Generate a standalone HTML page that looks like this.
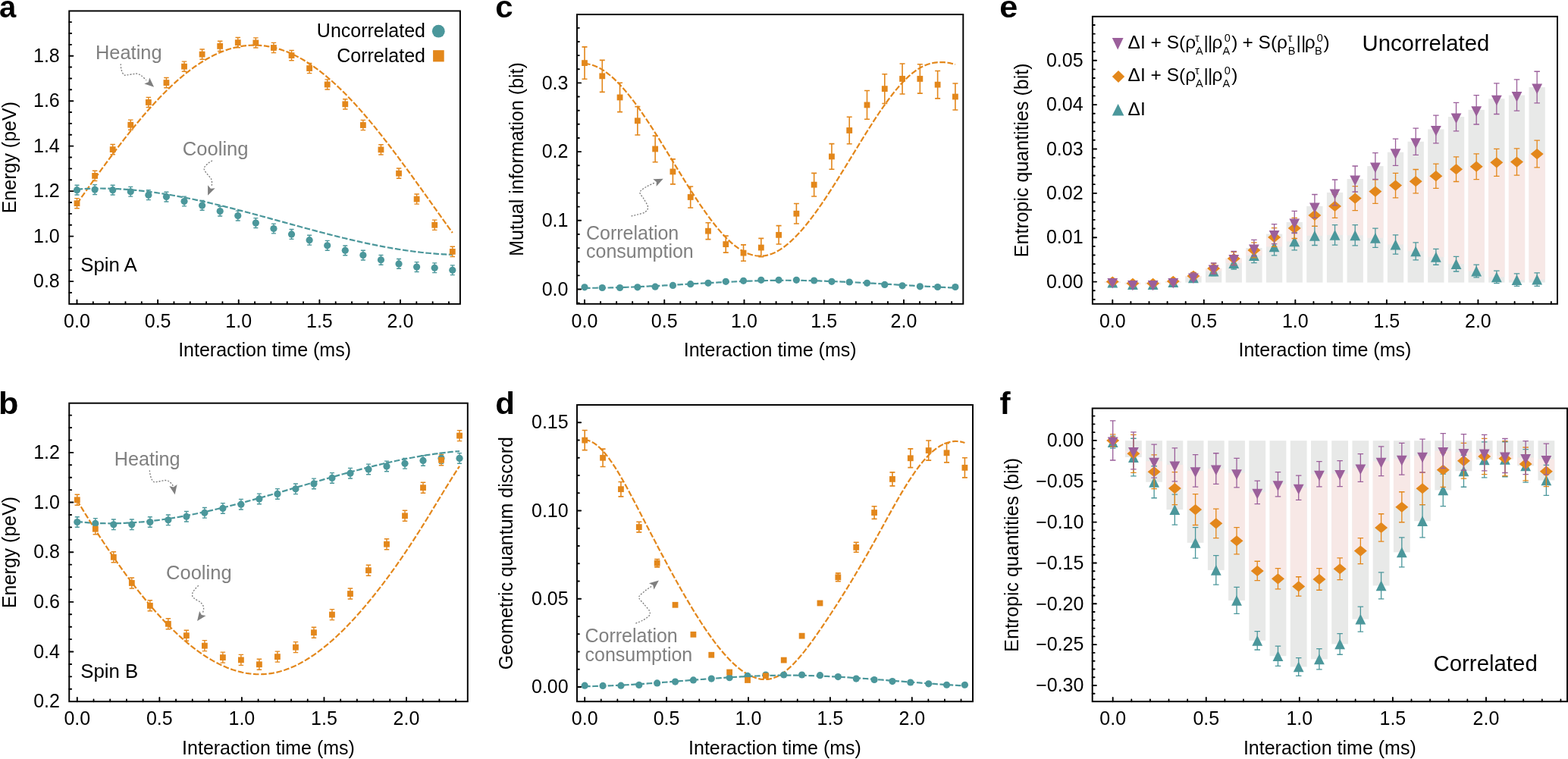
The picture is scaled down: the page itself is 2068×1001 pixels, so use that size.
<!DOCTYPE html>
<html><head><meta charset="utf-8"><title>Figure</title>
<style>html,body{margin:0;padding:0;background:#fff;overflow:hidden}svg{display:block}</style>
</head><body>
<svg width="2068" height="1001" viewBox="0 0 2068 1001">
<rect width="2068" height="1001" fill="#fff"/>
<style>text{font-family:'Liberation Sans', Arial, Helvetica, sans-serif;font-size:25px;fill:#000}.tk{font-size:25px}.pl{font-size:40px;font-weight:bold}</style>
<text transform="translate(-1.00 23.00) scale(1.000 1)" class="pl">a</text>
<text transform="translate(-2.00 546.00) scale(1.080 1)" class="pl">b</text>
<text transform="translate(653.30 23.00) scale(1.050 1)" class="pl">c</text>
<text transform="translate(653.30 545.50) scale(1.050 1)" class="pl">d</text>
<text transform="translate(1318.20 23.00) scale(1.080 1)" class="pl">e</text>
<text transform="translate(1318.40 545.50) scale(1.060 1)" class="pl">f</text>
<path d="M101.50 268.52 L103.99 265.02 L106.48 261.53 L108.97 258.03 L111.46 254.54 L113.94 251.05 L116.43 247.57 L118.92 244.09 L121.41 240.62 L123.90 237.16 L126.39 233.71 L128.88 230.27 L131.37 226.83 L133.86 223.41 L136.34 220.01 L138.83 216.62 L141.32 213.24 L143.81 209.88 L146.30 206.53 L148.79 203.20 L151.28 199.89 L153.77 196.60 L156.26 193.33 L158.75 190.08 L161.23 186.86 L163.72 183.65 L166.21 180.47 L168.70 177.32 L171.19 174.19 L173.68 171.09 L176.17 168.01 L178.66 164.97 L181.15 161.95 L183.63 158.96 L186.12 156.00 L188.61 153.08 L191.10 150.18 L193.59 147.32 L196.08 144.50 L198.57 141.71 L201.06 138.95 L203.55 136.23 L206.03 133.55 L208.52 130.90 L211.01 128.30 L213.50 125.73 L215.99 123.20 L218.48 120.72 L220.97 118.27 L223.46 115.87 L225.95 113.51 L228.43 111.19 L230.92 108.92 L233.41 106.69 L235.90 104.50 L238.39 102.37 L240.88 100.28 L243.37 98.23 L245.86 96.23 L248.35 94.29 L250.84 92.39 L253.32 90.54 L255.81 88.73 L258.30 86.98 L260.79 85.28 L263.28 83.63 L265.77 82.04 L268.26 80.49 L270.75 79.00 L273.24 77.56 L275.72 76.17 L278.21 74.84 L280.70 73.56 L283.19 72.34 L285.68 71.17 L288.17 70.05 L290.66 68.99 L293.15 67.99 L295.64 67.04 L298.12 66.15 L300.61 65.31 L303.10 64.54 L305.59 63.81 L308.08 63.15 L310.57 62.54 L313.06 61.99 L315.55 61.50 L318.04 61.07 L320.52 60.69 L323.01 60.37 L325.50 60.11 L327.99 59.91 L330.48 59.76 L332.97 59.68 L335.46 59.65 L337.95 59.68 L340.44 59.77 L342.92 59.92 L345.41 60.12 L347.90 60.39 L350.39 60.71 L352.88 61.09 L355.37 61.52 L357.86 62.02 L360.35 62.57 L362.84 63.18 L365.33 63.85 L367.81 64.57 L370.30 65.35 L372.79 66.19 L375.28 67.08 L377.77 68.04 L380.26 69.04 L382.75 70.10 L385.24 71.22 L387.73 72.39 L390.21 73.62 L392.70 74.90 L395.19 76.24 L397.68 77.63 L400.17 79.07 L402.66 80.56 L405.15 82.11 L407.64 83.71 L410.13 85.36 L412.61 87.07 L415.10 88.82 L417.59 90.62 L420.08 92.48 L422.57 94.38 L425.06 96.33 L427.55 98.33 L430.04 100.37 L432.53 102.47 L435.01 104.61 L437.50 106.79 L439.99 109.02 L442.48 111.30 L444.97 113.62 L447.46 115.98 L449.95 118.39 L452.44 120.83 L454.93 123.32 L457.42 125.85 L459.90 128.42 L462.39 131.03 L464.88 133.67 L467.37 136.36 L469.86 139.08 L472.35 141.84 L474.84 144.63 L477.33 147.46 L479.82 150.32 L482.30 153.22 L484.79 156.14 L487.28 159.10 L489.77 162.09 L492.26 165.11 L494.75 168.16 L497.24 171.24 L499.73 174.34 L502.22 177.47 L504.70 180.63 L507.19 183.81 L509.68 187.01 L512.17 190.24 L514.66 193.49 L517.15 196.76 L519.64 200.05 L522.13 203.36 L524.62 206.69 L527.10 210.04 L529.59 213.40 L532.08 216.78 L534.57 220.17 L537.06 223.58 L539.55 227.00 L542.04 230.43 L544.53 233.87 L547.02 237.32 L549.51 240.79 L551.99 244.26 L554.48 247.73 L556.97 251.22 L559.46 254.70 L561.95 258.20 L564.44 261.69 L566.93 265.19 L569.42 268.69 L571.91 272.19 L574.39 275.69 L576.88 279.19 L579.37 282.68 L581.86 286.17 L584.35 289.66 L586.84 293.14 L589.33 296.62 L591.82 300.08 L594.31 303.54 L596.79 306.99" fill="none" stroke="#e3871b" stroke-width="2.20" stroke-dasharray="7.6 2.6"/>
<path d="M101.50 249.65 L103.99 249.47 L106.48 249.31 L108.97 249.16 L111.46 249.03 L113.94 248.91 L116.43 248.81 L118.92 248.73 L121.41 248.66 L123.90 248.60 L126.39 248.56 L128.88 248.53 L131.37 248.52 L133.86 248.52 L136.34 248.54 L138.83 248.57 L141.32 248.61 L143.81 248.67 L146.30 248.74 L148.79 248.83 L151.28 248.93 L153.77 249.04 L156.26 249.16 L158.75 249.30 L161.23 249.45 L163.72 249.61 L166.21 249.78 L168.70 249.97 L171.19 250.17 L173.68 250.38 L176.17 250.60 L178.66 250.83 L181.15 251.08 L183.63 251.34 L186.12 251.60 L188.61 251.88 L191.10 252.17 L193.59 252.47 L196.08 252.78 L198.57 253.11 L201.06 253.44 L203.55 253.78 L206.03 254.13 L208.52 254.49 L211.01 254.86 L213.50 255.25 L215.99 255.64 L218.48 256.03 L220.97 256.44 L223.46 256.86 L225.95 257.29 L228.43 257.72 L230.92 258.17 L233.41 258.62 L235.90 259.08 L238.39 259.55 L240.88 260.02 L243.37 260.51 L245.86 261.00 L248.35 261.50 L250.84 262.00 L253.32 262.52 L255.81 263.04 L258.30 263.56 L260.79 264.10 L263.28 264.64 L265.77 265.18 L268.26 265.74 L270.75 266.30 L273.24 266.86 L275.72 267.43 L278.21 268.01 L280.70 268.59 L283.19 269.18 L285.68 269.77 L288.17 270.37 L290.66 270.97 L293.15 271.58 L295.64 272.19 L298.12 272.81 L300.61 273.43 L303.10 274.06 L305.59 274.69 L308.08 275.32 L310.57 275.96 L313.06 276.60 L315.55 277.25 L318.04 277.89 L320.52 278.54 L323.01 279.20 L325.50 279.85 L327.99 280.51 L330.48 281.18 L332.97 281.84 L335.46 282.51 L337.95 283.18 L340.44 283.85 L342.92 284.52 L345.41 285.19 L347.90 285.87 L350.39 286.55 L352.88 287.23 L355.37 287.91 L357.86 288.59 L360.35 289.27 L362.84 289.95 L365.33 290.63 L367.81 291.32 L370.30 292.00 L372.79 292.68 L375.28 293.37 L377.77 294.05 L380.26 294.73 L382.75 295.41 L385.24 296.10 L387.73 296.78 L390.21 297.46 L392.70 298.13 L395.19 298.81 L397.68 299.49 L400.17 300.16 L402.66 300.83 L405.15 301.51 L407.64 302.17 L410.13 302.84 L412.61 303.50 L415.10 304.17 L417.59 304.83 L420.08 305.48 L422.57 306.14 L425.06 306.79 L427.55 307.43 L430.04 308.08 L432.53 308.72 L435.01 309.35 L437.50 309.99 L439.99 310.62 L442.48 311.24 L444.97 311.86 L447.46 312.48 L449.95 313.09 L452.44 313.70 L454.93 314.30 L457.42 314.90 L459.90 315.49 L462.39 316.08 L464.88 316.66 L467.37 317.23 L469.86 317.80 L472.35 318.37 L474.84 318.93 L477.33 319.48 L479.82 320.03 L482.30 320.57 L484.79 321.10 L487.28 321.62 L489.77 322.14 L492.26 322.66 L494.75 323.16 L497.24 323.66 L499.73 324.15 L502.22 324.63 L504.70 325.11 L507.19 325.57 L509.68 326.03 L512.17 326.48 L514.66 326.93 L517.15 327.36 L519.64 327.78 L522.13 328.20 L524.62 328.61 L527.10 329.01 L529.59 329.39 L532.08 329.77 L534.57 330.14 L537.06 330.50 L539.55 330.85 L542.04 331.19 L544.53 331.52 L547.02 331.84 L549.51 332.15 L551.99 332.45 L554.48 332.74 L556.97 333.02 L559.46 333.28 L561.95 333.54 L564.44 333.78 L566.93 334.01 L569.42 334.24 L571.91 334.44 L574.39 334.64 L576.88 334.83 L579.37 335.00 L581.86 335.16 L584.35 335.31 L586.84 335.44 L589.33 335.56 L591.82 335.67 L594.31 335.77 L596.79 335.85" fill="none" stroke="#4b979b" stroke-width="2.20" stroke-dasharray="7.6 2.6"/>
<path d="M101.50 244.25V257.05M98.50 244.25H104.50M98.50 257.05H104.50M125.09 243.66V256.46M122.09 243.66H128.09M122.09 256.46H128.09M148.67 244.25V257.05M145.67 244.25H151.67M145.67 257.05H151.67M172.26 246.33V259.13M169.26 246.33H175.26M169.26 259.13H175.26M195.84 250.80V263.60M192.84 250.80H198.84M192.84 263.60H198.84M219.43 253.18V265.98M216.43 253.18H222.43M216.43 265.98H222.43M243.01 259.12V271.92M240.01 259.12H246.01M240.01 271.92H246.01M266.60 264.48V277.28M263.60 264.48H269.60M263.60 277.28H269.60M290.18 272.21V285.01M287.18 272.21H293.18M287.18 285.01H293.18M313.77 278.16V290.96M310.77 278.16H316.77M310.77 290.96H316.77M337.35 287.67V300.47M334.35 287.67H340.35M334.35 300.47H340.35M360.94 295.11V307.91M357.94 295.11H363.94M357.94 307.91H363.94M384.53 302.54V315.34M381.53 302.54H387.53M381.53 315.34H387.53M408.11 310.28V323.08M405.11 310.28H411.11M405.11 323.08H411.11M431.70 317.41V330.21M428.70 317.41H434.70M428.70 330.21H434.70M455.28 323.96V336.76M452.28 323.96H458.28M452.28 336.76H458.28M478.87 330.20V343.00M475.87 330.20H481.87M475.87 343.00H481.87M502.45 336.45V349.25M499.45 336.45H505.45M499.45 349.25H505.45M526.04 341.50V354.30M523.04 341.50H529.04M523.04 354.30H529.04M549.62 345.67V358.47M546.62 345.67H552.62M546.62 358.47H552.62M573.21 346.86V359.66M570.21 346.86H576.21M570.21 359.66H576.21M596.79 349.83V362.63M593.79 349.83H599.79M593.79 362.63H599.79" stroke="#4b979b" stroke-width="1.40" fill="none"/>
<path d="M101.50 261.60V274.80M98.25 261.60H104.75M98.25 274.80H104.75M125.09 225.32V238.52M121.84 225.32H128.34M121.84 238.52H128.34M148.67 190.52V203.72M145.42 190.52H151.92M145.42 203.72H151.92M172.26 158.10V171.30M169.01 158.10H175.51M169.01 171.30H175.51M195.84 128.36V141.56M192.59 128.36H199.09M192.59 141.56H199.09M219.43 102.49V115.69M216.18 102.49H222.68M216.18 115.69H222.68M243.01 81.08V94.28M239.76 81.08H246.26M239.76 94.28H246.26M266.60 65.02V78.22M263.35 65.02H269.85M263.35 78.22H269.85M290.18 54.31V67.51M286.93 54.31H293.43M286.93 67.51H293.43M313.77 49.55V62.75M310.52 49.55H317.02M310.52 62.75H317.02M337.35 49.85V63.05M334.10 49.85H340.60M334.10 63.05H340.60M360.94 56.39V69.59M357.69 56.39H364.19M357.69 69.59H364.19M384.53 66.51V79.71M381.28 66.51H387.78M381.28 79.71H387.78M408.11 83.46V96.66M404.86 83.46H411.36M404.86 96.66H411.36M431.70 104.87V118.07M428.45 104.87H434.95M428.45 118.07H434.95M455.28 130.74V143.94M452.03 130.74H458.53M452.03 143.94H458.53M478.87 158.40V171.60M475.62 158.40H482.12M475.62 171.60H482.12M502.45 190.82V204.02M499.20 190.82H505.70M499.20 204.02H505.70M526.04 222.05V235.25M522.79 222.05H529.29M522.79 235.25H529.29M549.62 255.95V269.15M546.37 255.95H552.87M546.37 269.15H552.87M573.21 290.15V303.35M569.96 290.15H576.46M569.96 303.35H576.46M596.79 325.24V338.44M593.54 325.24H600.04M593.54 338.44H600.04" stroke="#e3871b" stroke-width="1.40" fill="none"/>
<circle cx="101.50" cy="250.65" r="4.60" fill="#4b979b"/>
<circle cx="125.09" cy="250.06" r="4.60" fill="#4b979b"/>
<circle cx="148.67" cy="250.65" r="4.60" fill="#4b979b"/>
<circle cx="172.26" cy="252.73" r="4.60" fill="#4b979b"/>
<circle cx="195.84" cy="257.20" r="4.60" fill="#4b979b"/>
<circle cx="219.43" cy="259.58" r="4.60" fill="#4b979b"/>
<circle cx="243.01" cy="265.52" r="4.60" fill="#4b979b"/>
<circle cx="266.60" cy="270.88" r="4.60" fill="#4b979b"/>
<circle cx="290.18" cy="278.61" r="4.60" fill="#4b979b"/>
<circle cx="313.77" cy="284.56" r="4.60" fill="#4b979b"/>
<circle cx="337.35" cy="294.07" r="4.60" fill="#4b979b"/>
<circle cx="360.94" cy="301.51" r="4.60" fill="#4b979b"/>
<circle cx="384.53" cy="308.94" r="4.60" fill="#4b979b"/>
<circle cx="408.11" cy="316.68" r="4.60" fill="#4b979b"/>
<circle cx="431.70" cy="323.81" r="4.60" fill="#4b979b"/>
<circle cx="455.28" cy="330.36" r="4.60" fill="#4b979b"/>
<circle cx="478.87" cy="336.60" r="4.60" fill="#4b979b"/>
<circle cx="502.45" cy="342.85" r="4.60" fill="#4b979b"/>
<circle cx="526.04" cy="347.90" r="4.60" fill="#4b979b"/>
<circle cx="549.62" cy="352.07" r="4.60" fill="#4b979b"/>
<circle cx="573.21" cy="353.26" r="4.60" fill="#4b979b"/>
<circle cx="596.79" cy="356.23" r="4.60" fill="#4b979b"/>
<rect x="97.60" y="264.30" width="7.80" height="7.80" fill="#e3871b"/>
<rect x="121.19" y="228.02" width="7.80" height="7.80" fill="#e3871b"/>
<rect x="144.77" y="193.22" width="7.80" height="7.80" fill="#e3871b"/>
<rect x="168.36" y="160.80" width="7.80" height="7.80" fill="#e3871b"/>
<rect x="191.94" y="131.06" width="7.80" height="7.80" fill="#e3871b"/>
<rect x="215.53" y="105.19" width="7.80" height="7.80" fill="#e3871b"/>
<rect x="239.11" y="83.78" width="7.80" height="7.80" fill="#e3871b"/>
<rect x="262.70" y="67.72" width="7.80" height="7.80" fill="#e3871b"/>
<rect x="286.28" y="57.01" width="7.80" height="7.80" fill="#e3871b"/>
<rect x="309.87" y="52.25" width="7.80" height="7.80" fill="#e3871b"/>
<rect x="333.45" y="52.55" width="7.80" height="7.80" fill="#e3871b"/>
<rect x="357.04" y="59.09" width="7.80" height="7.80" fill="#e3871b"/>
<rect x="380.63" y="69.21" width="7.80" height="7.80" fill="#e3871b"/>
<rect x="404.21" y="86.16" width="7.80" height="7.80" fill="#e3871b"/>
<rect x="427.80" y="107.57" width="7.80" height="7.80" fill="#e3871b"/>
<rect x="451.38" y="133.44" width="7.80" height="7.80" fill="#e3871b"/>
<rect x="474.97" y="161.10" width="7.80" height="7.80" fill="#e3871b"/>
<rect x="498.55" y="193.52" width="7.80" height="7.80" fill="#e3871b"/>
<rect x="522.14" y="224.75" width="7.80" height="7.80" fill="#e3871b"/>
<rect x="545.72" y="258.65" width="7.80" height="7.80" fill="#e3871b"/>
<rect x="569.31" y="292.85" width="7.80" height="7.80" fill="#e3871b"/>
<rect x="592.89" y="327.94" width="7.80" height="7.80" fill="#e3871b"/>
<rect x="91.25" y="14.45" width="515.65" height="386.45" fill="none" stroke="#000" stroke-width="1.95"/>
<path d="M101.50 400.90V395.75M122.83 400.90V398.10M144.15 400.90V398.10M165.47 400.90V398.10M186.80 400.90V398.10M208.12 400.90V395.75M229.45 400.90V398.10M250.77 400.90V398.10M272.10 400.90V398.10M293.43 400.90V398.10M314.75 400.90V395.75M336.08 400.90V398.10M357.40 400.90V398.10M378.73 400.90V398.10M400.05 400.90V398.10M421.38 400.90V395.75M442.70 400.90V398.10M464.02 400.90V398.10M485.35 400.90V398.10M506.67 400.90V398.10M528.00 400.90V395.75M549.33 400.90V398.10M570.65 400.90V398.10M591.97 400.90V398.10M91.25 385.97H94.15M91.25 371.10H96.40M91.25 356.23H94.15M91.25 341.36H94.15M91.25 326.49H94.15M91.25 311.62H96.40M91.25 296.75H94.15M91.25 281.88H94.15M91.25 267.01H94.15M91.25 252.14H96.40M91.25 237.27H94.15M91.25 222.40H94.15M91.25 207.53H94.15M91.25 192.66H96.40M91.25 177.79H94.15M91.25 162.92H94.15M91.25 148.05H94.15M91.25 133.18H96.40M91.25 118.31H94.15M91.25 103.44H94.15M91.25 88.57H94.15M91.25 73.70H96.40M91.25 58.83H94.15M91.25 43.96H94.15M91.25 29.09H94.15" stroke="#000" stroke-width="1.9" stroke-linecap="round" fill="none"/>
<text x="101.50" y="432.00" text-anchor="middle" class="tk">0.0</text>
<text x="208.12" y="432.00" text-anchor="middle" class="tk">0.5</text>
<text x="314.75" y="432.00" text-anchor="middle" class="tk">1.0</text>
<text x="421.38" y="432.00" text-anchor="middle" class="tk">1.5</text>
<text x="528.00" y="432.00" text-anchor="middle" class="tk">2.0</text>
<text x="78.75" y="379.30" text-anchor="end" class="tk">0.8</text>
<text x="78.75" y="319.82" text-anchor="end" class="tk">1.0</text>
<text x="78.75" y="260.34" text-anchor="end" class="tk">1.2</text>
<text x="78.75" y="200.86" text-anchor="end" class="tk">1.4</text>
<text x="78.75" y="141.38" text-anchor="end" class="tk">1.6</text>
<text x="78.75" y="81.90" text-anchor="end" class="tk">1.8</text>
<text x="349.07" y="470.40" text-anchor="middle" class="tk">Interaction time (ms)</text>
<text transform="translate(21.20 207.67) rotate(-90)" text-anchor="middle" class="tk">Energy (peV)</text>
<text x="561.0" y="48.7" text-anchor="end">Uncorrelated</text>
<text x="561.0" y="82.1" text-anchor="end">Correlated</text>
<circle cx="578.3" cy="41.2" r="8.4" fill="#4b979b"/>
<rect x="571.1" y="66.2" width="14.6" height="15.2" fill="#e3871b"/>
<text x="106.2" y="357.7" style="font-size:25.8px">Spin A</text>
<text x="126.00" y="77.60" style="font-size:25.40px;fill:#808080" text-anchor="start">Heating</text>
<path d="M159.20 84.40C159.33 85.60 159.33 89.23 160.00 91.60C160.67 93.97 161.87 97.40 163.20 98.60C164.53 99.80 165.87 98.97 168.00 98.80C170.13 98.63 173.87 97.87 176.00 97.60C178.13 97.33 179.08 96.87 180.80 97.20C182.52 97.53 184.27 98.17 186.30 99.60C188.33 101.03 191.88 104.77 193.00 105.80" fill="none" stroke="#7a7a7a" stroke-width="1.3" stroke-dasharray="2.0 1.9" stroke-linecap="butt"/>
<path d="M203.10 114.70L190.36 110.41L195.74 108.22L197.23 102.60Z" fill="#7f7f7f"/>
<text x="240.80" y="205.10" style="font-size:25.60px;fill:#808080" text-anchor="start">Cooling</text>
<path d="M279.90 211.90C279.08 212.42 276.65 213.65 275.00 215.00C273.35 216.35 270.95 218.58 270.00 220.00C269.05 221.42 269.07 222.30 269.30 223.50C269.53 224.70 270.30 225.68 271.40 227.20C272.50 228.72 274.63 230.97 275.90 232.60C277.17 234.23 278.40 235.37 279.00 237.00C279.60 238.63 279.52 240.82 279.50 242.40C279.48 243.98 279.00 245.82 278.90 246.50" fill="none" stroke="#7a7a7a" stroke-width="1.3" stroke-dasharray="2.0 1.9" stroke-linecap="butt"/>
<path d="M274.10 257.70L274.10 244.25L277.89 248.66L283.69 248.28Z" fill="#7f7f7f"/>
<path d="M101.50 687.92 L104.04 688.19 L106.57 688.45 L109.11 688.69 L111.64 688.91 L114.18 689.11 L116.71 689.30 L119.25 689.47 L121.78 689.62 L124.32 689.76 L126.85 689.88 L129.39 689.99 L131.92 690.08 L134.46 690.15 L137.00 690.21 L139.53 690.25 L142.07 690.27 L144.60 690.28 L147.14 690.28 L149.67 690.26 L152.21 690.23 L154.74 690.18 L157.28 690.12 L159.81 690.04 L162.35 689.95 L164.88 689.84 L167.42 689.72 L169.95 689.59 L172.49 689.44 L175.03 689.28 L177.56 689.11 L180.10 688.92 L182.63 688.72 L185.17 688.51 L187.70 688.29 L190.24 688.05 L192.77 687.80 L195.31 687.54 L197.84 687.26 L200.38 686.98 L202.91 686.68 L205.45 686.37 L207.99 686.05 L210.52 685.72 L213.06 685.37 L215.59 685.02 L218.13 684.66 L220.66 684.28 L223.20 683.89 L225.73 683.50 L228.27 683.09 L230.80 682.68 L233.34 682.25 L235.87 681.81 L238.41 681.37 L240.94 680.91 L243.48 680.45 L246.02 679.97 L248.55 679.49 L251.09 679.00 L253.62 678.50 L256.16 677.99 L258.69 677.48 L261.23 676.95 L263.76 676.42 L266.30 675.88 L268.83 675.33 L271.37 674.77 L273.90 674.21 L276.44 673.64 L278.98 673.06 L281.51 672.47 L284.05 671.88 L286.58 671.28 L289.12 670.68 L291.65 670.07 L294.19 669.45 L296.72 668.83 L299.26 668.20 L301.79 667.56 L304.33 666.92 L306.86 666.28 L309.40 665.62 L311.93 664.97 L314.47 664.31 L317.01 663.64 L319.54 662.97 L322.08 662.29 L324.61 661.61 L327.15 660.93 L329.68 660.24 L332.22 659.55 L334.75 658.85 L337.29 658.15 L339.82 657.45 L342.36 656.74 L344.89 656.04 L347.43 655.32 L349.97 654.61 L352.50 653.89 L355.04 653.17 L357.57 652.45 L360.11 651.72 L362.64 651.00 L365.18 650.27 L367.71 649.54 L370.25 648.81 L372.78 648.07 L375.32 647.34 L377.85 646.60 L380.39 645.86 L382.92 645.13 L385.46 644.39 L388.00 643.65 L390.53 642.91 L393.07 642.17 L395.60 641.43 L398.14 640.69 L400.67 639.95 L403.21 639.21 L405.74 638.48 L408.28 637.74 L410.81 637.00 L413.35 636.27 L415.88 635.53 L418.42 634.80 L420.96 634.07 L423.49 633.34 L426.03 632.61 L428.56 631.88 L431.10 631.16 L433.63 630.44 L436.17 629.72 L438.70 629.00 L441.24 628.29 L443.77 627.58 L446.31 626.87 L448.84 626.16 L451.38 625.46 L453.91 624.76 L456.45 624.07 L458.99 623.38 L461.52 622.69 L464.06 622.01 L466.59 621.33 L469.13 620.65 L471.66 619.98 L474.20 619.32 L476.73 618.66 L479.27 618.00 L481.80 617.35 L484.34 616.71 L486.87 616.07 L489.41 615.44 L491.95 614.81 L494.48 614.19 L497.02 613.57 L499.55 612.96 L502.09 612.36 L504.62 611.76 L507.16 611.17 L509.69 610.59 L512.23 610.01 L514.76 609.45 L517.30 608.88 L519.83 608.33 L522.37 607.78 L524.90 607.25 L527.44 606.71 L529.98 606.19 L532.51 605.68 L535.05 605.17 L537.58 604.67 L540.12 604.19 L542.65 603.71 L545.19 603.24 L547.72 602.77 L550.26 602.32 L552.79 601.88 L555.33 601.45 L557.86 601.02 L560.40 600.61 L562.94 600.20 L565.47 599.81 L568.01 599.43 L570.54 599.06 L573.08 598.69 L575.61 598.34 L578.15 598.00 L580.68 597.68 L583.22 597.36 L585.75 597.05 L588.29 596.76 L590.82 596.48 L593.36 596.21 L595.90 595.95 L598.43 595.70 L600.97 595.47 L603.50 595.25 L606.04 595.04" fill="none" stroke="#4b979b" stroke-width="2.20" stroke-dasharray="7.6 2.6"/>
<path d="M101.50 659.56 L104.04 663.77 L106.57 667.95 L109.11 672.10 L111.64 676.23 L114.18 680.34 L116.71 684.41 L119.25 688.46 L121.78 692.48 L124.32 696.48 L126.85 700.44 L129.39 704.38 L131.92 708.28 L134.46 712.16 L137.00 716.00 L139.53 719.82 L142.07 723.60 L144.60 727.36 L147.14 731.08 L149.67 734.77 L152.21 738.42 L154.74 742.05 L157.28 745.64 L159.81 749.19 L162.35 752.71 L164.88 756.20 L167.42 759.65 L169.95 763.07 L172.49 766.45 L175.03 769.79 L177.56 773.10 L180.10 776.36 L182.63 779.60 L185.17 782.79 L187.70 785.94 L190.24 789.06 L192.77 792.14 L195.31 795.17 L197.84 798.17 L200.38 801.13 L202.91 804.04 L205.45 806.92 L207.99 809.75 L210.52 812.54 L213.06 815.29 L215.59 817.99 L218.13 820.65 L220.66 823.27 L223.20 825.84 L225.73 828.37 L228.27 830.85 L230.80 833.29 L233.34 835.68 L235.87 838.03 L238.41 840.33 L240.94 842.58 L243.48 844.78 L246.02 846.94 L248.55 849.05 L251.09 851.11 L253.62 853.12 L256.16 855.08 L258.69 856.99 L261.23 858.85 L263.76 860.66 L266.30 862.41 L268.83 864.12 L271.37 865.77 L273.90 867.37 L276.44 868.92 L278.98 870.42 L281.51 871.86 L284.05 873.25 L286.58 874.58 L289.12 875.86 L291.65 877.08 L294.19 878.25 L296.72 879.36 L299.26 880.41 L301.79 881.41 L304.33 882.35 L306.86 883.23 L309.40 884.05 L311.93 884.81 L314.47 885.52 L317.01 886.16 L319.54 886.75 L322.08 887.28 L324.61 887.74 L327.15 888.14 L329.68 888.49 L332.22 888.77 L334.75 888.98 L337.29 889.14 L339.82 889.23 L342.36 889.26 L344.89 889.22 L347.43 889.12 L349.97 888.95 L352.50 888.72 L355.04 888.43 L357.57 888.06 L360.11 887.64 L362.64 887.14 L365.18 886.58 L367.71 885.95 L370.25 885.26 L372.78 884.50 L375.32 883.68 L377.85 882.79 L380.39 881.85 L382.92 880.84 L385.46 879.76 L388.00 878.63 L390.53 877.44 L393.07 876.19 L395.60 874.87 L398.14 873.50 L400.67 872.08 L403.21 870.59 L405.74 869.05 L408.28 867.45 L410.81 865.79 L413.35 864.08 L415.88 862.31 L418.42 860.49 L420.96 858.62 L423.49 856.70 L426.03 854.72 L428.56 852.69 L431.10 850.61 L433.63 848.47 L436.17 846.29 L438.70 844.06 L441.24 841.78 L443.77 839.45 L446.31 837.07 L448.84 834.65 L451.38 832.18 L453.91 829.66 L456.45 827.10 L458.99 824.50 L461.52 821.85 L464.06 819.15 L466.59 816.41 L469.13 813.63 L471.66 810.81 L474.20 807.95 L476.73 805.04 L479.27 802.10 L481.80 799.12 L484.34 796.09 L486.87 793.03 L489.41 789.93 L491.95 786.79 L494.48 783.62 L497.02 780.41 L499.55 777.16 L502.09 773.87 L504.62 770.55 L507.16 767.19 L509.69 763.79 L512.23 760.36 L514.76 756.89 L517.30 753.39 L519.83 749.85 L522.37 746.28 L524.90 742.67 L527.44 739.02 L529.98 735.35 L532.51 731.63 L535.05 727.89 L537.58 724.11 L540.12 720.29 L542.65 716.44 L545.19 712.56 L547.72 708.65 L550.26 704.70 L552.79 700.72 L555.33 696.70 L557.86 692.66 L560.40 688.58 L562.94 684.48 L565.47 680.36 L568.01 676.21 L570.54 672.05 L573.08 667.88 L575.61 663.71 L578.15 659.54 L580.68 655.36 L583.22 651.20 L585.75 647.05 L588.29 642.91 L590.82 638.80 L593.36 634.71 L595.90 630.64 L598.43 626.62 L600.97 622.63 L603.50 618.68 L606.04 614.78" fill="none" stroke="#e3871b" stroke-width="2.20" stroke-dasharray="7.6 2.6"/>
<path d="M101.80 681.70V695.30M98.80 681.70H104.80M98.80 695.30H104.80M125.81 683.67V697.27M122.81 683.67H128.81M122.81 697.27H128.81M149.82 684.98V698.58M146.82 684.98H152.82M146.82 698.58H152.82M173.83 684.98V698.58M170.83 684.98H176.83M170.83 698.58H176.83M197.85 681.70V695.30M194.85 681.70H200.85M194.85 695.30H200.85M221.86 679.07V692.67M218.86 679.07H224.86M218.86 692.67H224.86M245.87 674.47V688.07M242.87 674.47H248.87M242.87 688.07H248.87M269.88 669.55V683.15M266.88 669.55H272.88M266.88 683.15H272.88M293.89 663.64V677.24M290.89 663.64H296.89M290.89 677.24H296.89M317.90 658.39V671.99M314.90 658.39H320.90M314.90 671.99H320.90M341.91 651.16V664.76M338.91 651.16H344.91M338.91 664.76H344.91M365.92 644.60V658.20M362.92 644.60H368.92M362.92 658.20H368.92M389.94 638.03V651.63M386.94 638.03H392.94M386.94 651.63H392.94M413.95 631.14V644.74M410.95 631.14H416.95M410.95 644.74H416.95M437.96 623.59V637.19M434.96 623.59H440.96M434.96 637.19H440.96M461.97 617.35V630.95M458.97 617.35H464.97M458.97 630.95H464.97M485.98 612.10V625.70M482.98 612.10H488.98M482.98 625.70H488.98M509.99 608.16V621.76M506.99 608.16H512.99M506.99 621.76H512.99M534.00 604.55V618.15M531.00 604.55H537.00M531.00 618.15H537.00M558.01 600.61V614.21M555.01 600.61H561.01M555.01 614.21H561.01M582.03 597.65V611.25M579.03 597.65H585.03M579.03 611.25H585.03M606.04 597.65V611.25M603.04 597.65H609.04M603.04 611.25H609.04" stroke="#4b979b" stroke-width="1.40" fill="none"/>
<path d="M101.80 652.28V666.28M98.55 652.28H105.05M98.55 666.28H105.05M125.81 690.69V704.69M122.56 690.69H129.06M122.56 704.69H129.06M149.82 727.79V741.79M146.57 727.79H153.07M146.57 741.79H153.07M173.83 761.93V775.93M170.58 761.93H177.08M170.58 775.93H177.08M197.85 791.80V805.80M194.60 791.80H201.10M194.60 805.80H201.10M221.86 815.77V829.77M218.61 815.77H225.11M218.61 829.77H225.11M245.87 831.20V845.20M242.62 831.20H249.12M242.62 845.20H249.12M269.88 844.66V858.66M266.63 844.66H273.13M266.63 858.66H273.13M293.89 860.09V874.09M290.64 860.09H297.14M290.64 874.09H297.14M317.90 863.37V877.37M314.65 863.37H321.15M314.65 877.37H321.15M341.91 869.28V883.28M338.66 869.28H345.16M338.66 883.28H345.16M365.92 859.11V873.11M362.67 859.11H369.17M362.67 873.11H369.17M389.94 846.63V860.63M386.69 846.63H393.19M386.69 860.63H393.19M413.95 827.26V841.26M410.70 827.26H417.20M410.70 841.26H417.20M437.96 803.62V817.62M434.71 803.62H441.21M434.71 817.62H441.21M461.97 776.05V790.05M458.72 776.05H465.22M458.72 790.05H465.22M485.98 745.19V759.19M482.73 745.19H489.23M482.73 759.19H489.23M509.99 710.71V724.71M506.74 710.71H513.24M506.74 724.71H513.24M534.00 673.29V687.29M530.75 673.29H537.25M530.75 687.29H537.25M558.01 636.19V650.19M554.76 636.19H561.26M554.76 650.19H561.26M582.03 599.75V613.75M578.78 599.75H585.28M578.78 613.75H585.28M606.04 567.58V581.58M602.79 567.58H609.29M602.79 581.58H609.29" stroke="#e3871b" stroke-width="1.40" fill="none"/>
<circle cx="101.80" cy="688.50" r="4.60" fill="#4b979b"/>
<circle cx="125.81" cy="690.47" r="4.60" fill="#4b979b"/>
<circle cx="149.82" cy="691.78" r="4.60" fill="#4b979b"/>
<circle cx="173.83" cy="691.78" r="4.60" fill="#4b979b"/>
<circle cx="197.85" cy="688.50" r="4.60" fill="#4b979b"/>
<circle cx="221.86" cy="685.87" r="4.60" fill="#4b979b"/>
<circle cx="245.87" cy="681.27" r="4.60" fill="#4b979b"/>
<circle cx="269.88" cy="676.35" r="4.60" fill="#4b979b"/>
<circle cx="293.89" cy="670.44" r="4.60" fill="#4b979b"/>
<circle cx="317.90" cy="665.19" r="4.60" fill="#4b979b"/>
<circle cx="341.91" cy="657.96" r="4.60" fill="#4b979b"/>
<circle cx="365.92" cy="651.40" r="4.60" fill="#4b979b"/>
<circle cx="389.94" cy="644.83" r="4.60" fill="#4b979b"/>
<circle cx="413.95" cy="637.94" r="4.60" fill="#4b979b"/>
<circle cx="437.96" cy="630.39" r="4.60" fill="#4b979b"/>
<circle cx="461.97" cy="624.15" r="4.60" fill="#4b979b"/>
<circle cx="485.98" cy="618.90" r="4.60" fill="#4b979b"/>
<circle cx="509.99" cy="614.96" r="4.60" fill="#4b979b"/>
<circle cx="534.00" cy="611.35" r="4.60" fill="#4b979b"/>
<circle cx="558.01" cy="607.41" r="4.60" fill="#4b979b"/>
<circle cx="582.03" cy="604.45" r="4.60" fill="#4b979b"/>
<circle cx="606.04" cy="604.45" r="4.60" fill="#4b979b"/>
<rect x="97.90" y="655.38" width="7.80" height="7.80" fill="#e3871b"/>
<rect x="121.91" y="693.79" width="7.80" height="7.80" fill="#e3871b"/>
<rect x="145.92" y="730.89" width="7.80" height="7.80" fill="#e3871b"/>
<rect x="169.93" y="765.03" width="7.80" height="7.80" fill="#e3871b"/>
<rect x="193.95" y="794.90" width="7.80" height="7.80" fill="#e3871b"/>
<rect x="217.96" y="818.87" width="7.80" height="7.80" fill="#e3871b"/>
<rect x="241.97" y="834.30" width="7.80" height="7.80" fill="#e3871b"/>
<rect x="265.98" y="847.76" width="7.80" height="7.80" fill="#e3871b"/>
<rect x="289.99" y="863.19" width="7.80" height="7.80" fill="#e3871b"/>
<rect x="314.00" y="866.47" width="7.80" height="7.80" fill="#e3871b"/>
<rect x="338.01" y="872.38" width="7.80" height="7.80" fill="#e3871b"/>
<rect x="362.02" y="862.21" width="7.80" height="7.80" fill="#e3871b"/>
<rect x="386.04" y="849.73" width="7.80" height="7.80" fill="#e3871b"/>
<rect x="410.05" y="830.36" width="7.80" height="7.80" fill="#e3871b"/>
<rect x="434.06" y="806.72" width="7.80" height="7.80" fill="#e3871b"/>
<rect x="458.07" y="779.15" width="7.80" height="7.80" fill="#e3871b"/>
<rect x="482.08" y="748.29" width="7.80" height="7.80" fill="#e3871b"/>
<rect x="506.09" y="713.81" width="7.80" height="7.80" fill="#e3871b"/>
<rect x="530.10" y="676.39" width="7.80" height="7.80" fill="#e3871b"/>
<rect x="554.11" y="639.29" width="7.80" height="7.80" fill="#e3871b"/>
<rect x="578.13" y="602.85" width="7.80" height="7.80" fill="#e3871b"/>
<rect x="602.14" y="570.68" width="7.80" height="7.80" fill="#e3871b"/>
<rect x="91.25" y="531.70" width="525.55" height="393.50" fill="none" stroke="#000" stroke-width="1.95"/>
<path d="M101.80 925.20V920.05M123.51 925.20V922.40M145.22 925.20V922.40M166.93 925.20V922.40M188.64 925.20V922.40M210.35 925.20V920.05M232.06 925.20V922.40M253.77 925.20V922.40M275.48 925.20V922.40M297.19 925.20V922.40M318.90 925.20V920.05M340.61 925.20V922.40M362.32 925.20V922.40M384.03 925.20V922.40M405.74 925.20V922.40M427.45 925.20V920.05M449.16 925.20V922.40M470.87 925.20V922.40M492.58 925.20V922.40M514.29 925.20V922.40M536.00 925.20V920.05M557.71 925.20V922.40M579.42 925.20V922.40M601.13 925.20V922.40M91.25 908.79H94.15M91.25 892.37H94.15M91.25 875.96H94.15M91.25 859.54H96.40M91.25 843.12H94.15M91.25 826.71H94.15M91.25 810.30H94.15M91.25 793.88H96.40M91.25 777.47H94.15M91.25 761.05H94.15M91.25 744.63H94.15M91.25 728.22H96.40M91.25 711.81H94.15M91.25 695.39H94.15M91.25 678.98H94.15M91.25 662.56H96.40M91.25 646.14H94.15M91.25 629.73H94.15M91.25 613.32H94.15M91.25 596.90H96.40M91.25 580.49H94.15M91.25 564.07H94.15M91.25 547.65H94.15" stroke="#000" stroke-width="1.9" stroke-linecap="round" fill="none"/>
<text x="101.80" y="956.30" text-anchor="middle" class="tk">0.0</text>
<text x="210.35" y="956.30" text-anchor="middle" class="tk">0.5</text>
<text x="318.90" y="956.30" text-anchor="middle" class="tk">1.0</text>
<text x="427.45" y="956.30" text-anchor="middle" class="tk">1.5</text>
<text x="536.00" y="956.30" text-anchor="middle" class="tk">2.0</text>
<text x="78.95" y="933.40" text-anchor="end" class="tk">0.2</text>
<text x="78.95" y="867.74" text-anchor="end" class="tk">0.4</text>
<text x="78.95" y="802.08" text-anchor="end" class="tk">0.6</text>
<text x="78.95" y="736.42" text-anchor="end" class="tk">0.8</text>
<text x="78.95" y="670.76" text-anchor="end" class="tk">1.0</text>
<text x="78.95" y="605.10" text-anchor="end" class="tk">1.2</text>
<text x="354.02" y="994.70" text-anchor="middle" class="tk">Interaction time (ms)</text>
<text transform="translate(21.20 728.45) rotate(-90)" text-anchor="middle" class="tk">Energy (peV)</text>
<text x="106.2" y="894" style="font-size:25.8px">Spin B</text>
<text x="150.80" y="613.90" style="font-size:25.20px;fill:#808080" text-anchor="start">Heating</text>
<path d="M197.30 620.30C197.43 621.25 197.65 624.05 198.10 626.00C198.55 627.95 199.20 630.42 200.00 632.00C200.80 633.58 201.67 634.93 202.90 635.50C204.13 636.07 205.65 635.62 207.40 635.40C209.15 635.18 211.52 634.52 213.40 634.20C215.28 633.88 217.07 633.37 218.70 633.50C220.33 633.63 221.83 634.13 223.20 635.00C224.57 635.87 226.05 637.70 226.90 638.70C227.75 639.70 228.07 640.62 228.30 641.00" fill="none" stroke="#7a7a7a" stroke-width="1.3" stroke-dasharray="2.0 1.9" stroke-linecap="butt"/>
<path d="M230.70 652.20L223.30 640.97L228.89 642.57L233.53 639.05Z" fill="#7f7f7f"/>
<text x="219.10" y="764.20" style="font-size:25.50px;fill:#808080" text-anchor="start">Cooling</text>
<path d="M261.80 772.30C261.10 773.00 258.90 774.88 257.60 776.50C256.30 778.12 254.60 780.30 254.00 782.00C253.40 783.70 253.40 785.35 254.00 786.70C254.60 788.05 255.87 788.82 257.60 790.10C259.33 791.38 262.70 792.98 264.40 794.40C266.10 795.82 267.10 797.18 267.80 798.60C268.50 800.02 268.65 801.33 268.60 802.90C268.55 804.47 267.68 807.15 267.50 808.00" fill="none" stroke="#7a7a7a" stroke-width="1.3" stroke-dasharray="2.0 1.9" stroke-linecap="butt"/>
<path d="M260.10 819.00L263.09 805.89L265.81 811.03L271.55 811.95Z" fill="#7f7f7f"/>
<path d="M771.00 84.00 L773.46 84.17 L775.91 84.51 L778.37 85.01 L780.83 85.67 L783.28 86.48 L785.74 87.43 L788.20 88.54 L790.65 89.78 L793.11 91.16 L795.57 92.68 L798.03 94.33 L800.48 96.11 L802.94 98.01 L805.40 100.03 L807.85 102.17 L810.31 104.43 L812.77 106.79 L815.22 109.26 L817.68 111.83 L820.14 114.51 L822.59 117.27 L825.05 120.14 L827.51 123.09 L829.96 126.12 L832.42 129.24 L834.88 132.43 L837.33 135.71 L839.79 139.05 L842.25 142.46 L844.70 145.93 L847.16 149.46 L849.62 153.06 L852.08 156.70 L854.53 160.40 L856.99 164.14 L859.45 167.92 L861.90 171.75 L864.36 175.61 L866.82 179.50 L869.27 183.42 L871.73 187.37 L874.19 191.33 L876.64 195.32 L879.10 199.32 L881.56 203.33 L884.01 207.35 L886.47 211.38 L888.93 215.40 L891.38 219.42 L893.84 223.44 L896.30 227.44 L898.75 231.43 L901.21 235.40 L903.67 239.36 L906.13 243.29 L908.58 247.19 L911.04 251.06 L913.50 254.89 L915.95 258.69 L918.41 262.44 L920.87 266.15 L923.32 269.80 L925.78 273.41 L928.24 276.95 L930.69 280.44 L933.15 283.85 L935.61 287.20 L938.06 290.48 L940.52 293.67 L942.98 296.79 L945.43 299.82 L947.89 302.77 L950.35 305.62 L952.80 308.37 L955.26 311.03 L957.72 313.58 L960.18 316.02 L962.63 318.35 L965.09 320.57 L967.55 322.66 L970.00 324.64 L972.46 326.48 L974.92 328.20 L977.37 329.78 L979.83 331.22 L982.29 332.52 L984.74 333.67 L987.20 334.68 L989.66 335.55 L992.11 336.26 L994.57 336.83 L997.03 337.25 L999.48 337.52 L1001.94 337.64 L1004.40 337.61 L1006.85 337.43 L1009.31 337.09 L1011.77 336.60 L1014.23 335.96 L1016.68 335.17 L1019.14 334.23 L1021.60 333.15 L1024.05 331.93 L1026.51 330.58 L1028.97 329.10 L1031.42 327.48 L1033.88 325.74 L1036.34 323.88 L1038.79 321.90 L1041.25 319.81 L1043.71 317.60 L1046.16 315.29 L1048.62 312.87 L1051.08 310.34 L1053.53 307.72 L1055.99 305.01 L1058.45 302.20 L1060.90 299.30 L1063.36 296.32 L1065.82 293.26 L1068.28 290.11 L1070.73 286.90 L1073.19 283.61 L1075.65 280.25 L1078.10 276.83 L1080.56 273.34 L1083.02 269.80 L1085.47 266.20 L1087.93 262.55 L1090.39 258.86 L1092.84 255.11 L1095.30 251.33 L1097.76 247.50 L1100.21 243.65 L1102.67 239.76 L1105.13 235.84 L1107.58 231.89 L1110.04 227.93 L1112.50 223.95 L1114.95 219.95 L1117.41 215.94 L1119.87 211.92 L1122.33 207.90 L1124.78 203.87 L1127.24 199.85 L1129.70 195.83 L1132.15 191.82 L1134.61 187.82 L1137.07 183.84 L1139.52 179.87 L1141.98 175.93 L1144.44 172.01 L1146.89 168.13 L1149.35 164.27 L1151.81 160.45 L1154.26 156.67 L1156.72 152.94 L1159.18 149.26 L1161.63 145.64 L1164.09 142.07 L1166.55 138.56 L1169.00 135.13 L1171.46 131.76 L1173.92 128.47 L1176.38 125.26 L1178.83 122.13 L1181.29 119.09 L1183.75 116.15 L1186.20 113.30 L1188.66 110.55 L1191.12 107.91 L1193.57 105.38 L1196.03 102.97 L1198.49 100.67 L1200.94 98.49 L1203.40 96.44 L1205.86 94.52 L1208.31 92.74 L1210.77 91.10 L1213.23 89.60 L1215.68 88.25 L1218.14 87.04 L1220.60 85.97 L1223.05 85.04 L1225.51 84.25 L1227.97 83.58 L1230.43 83.04 L1232.88 82.62 L1235.34 82.32 L1237.80 82.13 L1240.25 82.05 L1242.71 82.08 L1245.17 82.21 L1247.62 82.45 L1250.08 82.77 L1252.54 83.19 L1254.99 83.70 L1257.45 84.29 L1259.91 84.95" fill="none" stroke="#e3871b" stroke-width="2.20" stroke-dasharray="7.6 2.6"/>
<path d="M771.00 379.77 L773.46 379.78 L775.91 379.78 L778.37 379.78 L780.83 379.77 L783.28 379.76 L785.74 379.74 L788.20 379.72 L790.65 379.69 L793.11 379.66 L795.57 379.62 L798.03 379.58 L800.48 379.54 L802.94 379.48 L805.40 379.43 L807.85 379.37 L810.31 379.31 L812.77 379.24 L815.22 379.17 L817.68 379.10 L820.14 379.02 L822.59 378.94 L825.05 378.85 L827.51 378.76 L829.96 378.67 L832.42 378.58 L834.88 378.48 L837.33 378.38 L839.79 378.27 L842.25 378.17 L844.70 378.06 L847.16 377.94 L849.62 377.83 L852.08 377.71 L854.53 377.59 L856.99 377.47 L859.45 377.35 L861.90 377.23 L864.36 377.10 L866.82 376.97 L869.27 376.84 L871.73 376.71 L874.19 376.58 L876.64 376.44 L879.10 376.31 L881.56 376.17 L884.01 376.03 L886.47 375.89 L888.93 375.75 L891.38 375.61 L893.84 375.47 L896.30 375.33 L898.75 375.19 L901.21 375.05 L903.67 374.91 L906.13 374.76 L908.58 374.62 L911.04 374.48 L913.50 374.34 L915.95 374.20 L918.41 374.06 L920.87 373.91 L923.32 373.77 L925.78 373.64 L928.24 373.50 L930.69 373.36 L933.15 373.22 L935.61 373.09 L938.06 372.95 L940.52 372.82 L942.98 372.69 L945.43 372.56 L947.89 372.43 L950.35 372.30 L952.80 372.18 L955.26 372.06 L957.72 371.94 L960.18 371.82 L962.63 371.70 L965.09 371.59 L967.55 371.48 L970.00 371.37 L972.46 371.26 L974.92 371.16 L977.37 371.06 L979.83 370.96 L982.29 370.87 L984.74 370.78 L987.20 370.69 L989.66 370.60 L992.11 370.52 L994.57 370.44 L997.03 370.37 L999.48 370.30 L1001.94 370.23 L1004.40 370.17 L1006.85 370.11 L1009.31 370.06 L1011.77 370.01 L1014.23 369.96 L1016.68 369.92 L1019.14 369.89 L1021.60 369.86 L1024.05 369.83 L1026.51 369.81 L1028.97 369.79 L1031.42 369.78 L1033.88 369.77 L1036.34 369.77 L1038.79 369.77 L1041.25 369.78 L1043.71 369.79 L1046.16 369.81 L1048.62 369.83 L1051.08 369.86 L1053.53 369.89 L1055.99 369.92 L1058.45 369.96 L1060.90 370.00 L1063.36 370.04 L1065.82 370.09 L1068.28 370.15 L1070.73 370.21 L1073.19 370.27 L1075.65 370.33 L1078.10 370.40 L1080.56 370.47 L1083.02 370.54 L1085.47 370.62 L1087.93 370.70 L1090.39 370.79 L1092.84 370.88 L1095.30 370.97 L1097.76 371.06 L1100.21 371.15 L1102.67 371.25 L1105.13 371.35 L1107.58 371.46 L1110.04 371.57 L1112.50 371.67 L1114.95 371.79 L1117.41 371.90 L1119.87 372.01 L1122.33 372.13 L1124.78 372.25 L1127.24 372.37 L1129.70 372.50 L1132.15 372.62 L1134.61 372.75 L1137.07 372.88 L1139.52 373.01 L1141.98 373.14 L1144.44 373.27 L1146.89 373.41 L1149.35 373.54 L1151.81 373.68 L1154.26 373.82 L1156.72 373.95 L1159.18 374.09 L1161.63 374.24 L1164.09 374.38 L1166.55 374.52 L1169.00 374.66 L1171.46 374.80 L1173.92 374.95 L1176.38 375.09 L1178.83 375.24 L1181.29 375.38 L1183.75 375.53 L1186.20 375.67 L1188.66 375.82 L1191.12 375.96 L1193.57 376.10 L1196.03 376.25 L1198.49 376.39 L1200.94 376.54 L1203.40 376.68 L1205.86 376.82 L1208.31 376.96 L1210.77 377.11 L1213.23 377.25 L1215.68 377.39 L1218.14 377.52 L1220.60 377.66 L1223.05 377.80 L1225.51 377.93 L1227.97 378.07 L1230.43 378.20 L1232.88 378.33 L1235.34 378.46 L1237.80 378.59 L1240.25 378.72 L1242.71 378.84 L1245.17 378.96 L1247.62 379.09 L1250.08 379.21 L1252.54 379.32 L1254.99 379.44 L1257.45 379.55 L1259.91 379.66" fill="none" stroke="#4b979b" stroke-width="2.20" stroke-dasharray="7.6 2.6"/>
<path d="M771.00 61.90V104.30M767.50 61.90H774.50M767.50 104.30H774.50M794.28 79.33V121.33M790.78 79.33H797.78M790.78 121.33H797.78M817.56 109.25V147.65M814.06 109.25H821.06M814.06 147.65H821.06M840.84 140.59V177.98M837.34 140.59H844.34M837.34 177.98H844.34M864.13 179.17V213.77M860.63 179.17H867.63M860.63 213.77H867.63M887.41 209.90V242.90M883.91 209.90H890.91M883.91 242.90H890.91M910.69 245.96V273.96M907.19 245.96H914.19M907.19 273.96H914.19M933.97 293.78V315.58M930.47 293.78H937.47M930.47 315.58H937.47M957.25 311.09V333.09M953.75 311.09H960.75M953.75 333.09H960.75M980.53 322.91V344.31M977.03 322.91H984.03M977.03 344.31H984.03M1003.81 314.34V338.74M1000.31 314.34H1007.31M1000.31 338.74H1007.31M1027.09 297.65V322.05M1023.59 297.65H1030.59M1023.59 322.05H1030.59M1050.38 268.43V295.03M1046.88 268.43H1053.88M1046.88 295.03H1053.88M1073.66 228.34V258.94M1070.16 228.34H1077.16M1070.16 258.94H1077.16M1096.94 189.65V223.25M1093.44 189.65H1100.44M1093.44 223.25H1100.44M1120.22 154.18V189.78M1116.72 154.18H1123.72M1116.72 189.78H1123.72M1143.50 119.52V157.32M1140.00 119.52H1147.00M1140.00 157.32H1147.00M1166.78 97.71V136.51M1163.28 97.71H1170.28M1163.28 136.51H1170.28M1190.06 83.96V123.96M1186.56 83.96H1193.56M1186.56 123.96H1193.56M1213.34 84.76V123.16M1209.84 84.76H1216.84M1209.84 123.16H1216.84M1236.63 93.47V129.87M1233.13 93.47H1240.13M1233.13 129.87H1240.13M1259.91 110.04V145.04M1256.41 110.04H1263.41M1256.41 145.04H1263.41" stroke="#e3871b" stroke-width="1.60" fill="none"/>
<circle cx="771.00" cy="378.78" r="4.60" fill="#4b979b"/>
<circle cx="794.28" cy="379.50" r="4.60" fill="#4b979b"/>
<circle cx="817.56" cy="379.50" r="4.60" fill="#4b979b"/>
<circle cx="840.84" cy="378.78" r="4.60" fill="#4b979b"/>
<circle cx="864.13" cy="378.14" r="4.60" fill="#4b979b"/>
<circle cx="887.41" cy="376.42" r="4.60" fill="#4b979b"/>
<circle cx="910.69" cy="374.70" r="4.60" fill="#4b979b"/>
<circle cx="933.97" cy="373.34" r="4.60" fill="#4b979b"/>
<circle cx="957.25" cy="371.34" r="4.60" fill="#4b979b"/>
<circle cx="980.53" cy="370.34" r="4.60" fill="#4b979b"/>
<circle cx="1003.81" cy="369.35" r="4.60" fill="#4b979b"/>
<circle cx="1027.09" cy="369.35" r="4.60" fill="#4b979b"/>
<circle cx="1050.38" cy="369.35" r="4.60" fill="#4b979b"/>
<circle cx="1073.66" cy="369.98" r="4.60" fill="#4b979b"/>
<circle cx="1096.94" cy="371.34" r="4.60" fill="#4b979b"/>
<circle cx="1120.22" cy="371.98" r="4.60" fill="#4b979b"/>
<circle cx="1143.50" cy="373.34" r="4.60" fill="#4b979b"/>
<circle cx="1166.78" cy="375.42" r="4.60" fill="#4b979b"/>
<circle cx="1190.06" cy="376.78" r="4.60" fill="#4b979b"/>
<circle cx="1213.34" cy="377.78" r="4.60" fill="#4b979b"/>
<circle cx="1236.63" cy="378.51" r="4.60" fill="#4b979b"/>
<circle cx="1259.91" cy="378.51" r="4.60" fill="#4b979b"/>
<rect x="767.10" y="79.20" width="7.80" height="7.80" fill="#e3871b"/>
<rect x="790.38" y="96.43" width="7.80" height="7.80" fill="#e3871b"/>
<rect x="813.66" y="124.55" width="7.80" height="7.80" fill="#e3871b"/>
<rect x="836.94" y="155.38" width="7.80" height="7.80" fill="#e3871b"/>
<rect x="860.23" y="192.57" width="7.80" height="7.80" fill="#e3871b"/>
<rect x="883.51" y="222.50" width="7.80" height="7.80" fill="#e3871b"/>
<rect x="906.79" y="256.06" width="7.80" height="7.80" fill="#e3871b"/>
<rect x="930.07" y="300.78" width="7.80" height="7.80" fill="#e3871b"/>
<rect x="953.35" y="318.19" width="7.80" height="7.80" fill="#e3871b"/>
<rect x="976.63" y="329.71" width="7.80" height="7.80" fill="#e3871b"/>
<rect x="999.91" y="322.64" width="7.80" height="7.80" fill="#e3871b"/>
<rect x="1023.19" y="305.95" width="7.80" height="7.80" fill="#e3871b"/>
<rect x="1046.48" y="277.83" width="7.80" height="7.80" fill="#e3871b"/>
<rect x="1069.76" y="239.74" width="7.80" height="7.80" fill="#e3871b"/>
<rect x="1093.04" y="202.55" width="7.80" height="7.80" fill="#e3871b"/>
<rect x="1116.32" y="168.08" width="7.80" height="7.80" fill="#e3871b"/>
<rect x="1139.60" y="134.52" width="7.80" height="7.80" fill="#e3871b"/>
<rect x="1162.88" y="113.21" width="7.80" height="7.80" fill="#e3871b"/>
<rect x="1186.16" y="100.06" width="7.80" height="7.80" fill="#e3871b"/>
<rect x="1209.44" y="100.06" width="7.80" height="7.80" fill="#e3871b"/>
<rect x="1232.73" y="107.77" width="7.80" height="7.80" fill="#e3871b"/>
<rect x="1256.01" y="123.64" width="7.80" height="7.80" fill="#e3871b"/>
<rect x="761.00" y="19.10" width="509.30" height="381.70" fill="none" stroke="#000" stroke-width="1.95"/>
<path d="M771.00 400.80V395.65M792.05 400.80V398.00M813.10 400.80V398.00M834.15 400.80V398.00M855.20 400.80V398.00M876.25 400.80V395.65M897.30 400.80V398.00M918.35 400.80V398.00M939.40 400.80V398.00M960.45 400.80V398.00M981.50 400.80V395.65M1002.55 400.80V398.00M1023.60 400.80V398.00M1044.65 400.80V398.00M1065.70 400.80V398.00M1086.75 400.80V395.65M1107.80 400.80V398.00M1128.85 400.80V398.00M1149.90 400.80V398.00M1170.95 400.80V398.00M1192.00 400.80V395.65M1213.05 400.80V398.00M1234.10 400.80V398.00M1255.15 400.80V398.00M761.00 399.64H763.90M761.00 381.50H766.15M761.00 363.36H763.90M761.00 345.22H763.90M761.00 327.08H763.90M761.00 308.94H763.90M761.00 290.80H766.15M761.00 272.66H763.90M761.00 254.52H763.90M761.00 236.38H763.90M761.00 218.24H763.90M761.00 200.10H766.15M761.00 181.96H763.90M761.00 163.82H763.90M761.00 145.68H763.90M761.00 127.54H763.90M761.00 109.40H766.15M761.00 91.26H763.90M761.00 73.12H763.90M761.00 54.98H763.90M761.00 36.84H763.90" stroke="#000" stroke-width="1.9" stroke-linecap="round" fill="none"/>
<text x="771.00" y="431.90" text-anchor="middle" class="tk">0.0</text>
<text x="876.25" y="431.90" text-anchor="middle" class="tk">0.5</text>
<text x="981.50" y="431.90" text-anchor="middle" class="tk">1.0</text>
<text x="1086.75" y="431.90" text-anchor="middle" class="tk">1.5</text>
<text x="1192.00" y="431.90" text-anchor="middle" class="tk">2.0</text>
<text x="749.40" y="389.70" text-anchor="end" class="tk">0.0</text>
<text x="749.40" y="299.00" text-anchor="end" class="tk">0.1</text>
<text x="749.40" y="208.30" text-anchor="end" class="tk">0.2</text>
<text x="749.40" y="117.60" text-anchor="end" class="tk">0.3</text>
<text x="1015.65" y="470.30" text-anchor="middle" class="tk">Interaction time (ms)</text>
<text transform="translate(689.50 209.95) rotate(-90)" text-anchor="middle" class="tk">Mutual information (bit)</text>
<text x="773.00" y="315.50" style="font-size:25.00px;fill:#808080" text-anchor="start">Correlation</text>
<text x="773.00" y="340.10" style="font-size:25.00px;fill:#808080" text-anchor="start">consumption</text>
<path d="M832.50 284.90C833.92 284.58 837.97 283.87 841.00 283.00C844.03 282.13 848.43 281.33 850.70 279.70C852.97 278.07 854.80 275.98 854.60 273.20C854.40 270.42 851.23 266.02 849.50 263.00C847.77 259.98 844.87 257.07 844.20 255.10C843.53 253.13 844.03 252.72 845.50 251.20C846.97 249.68 850.05 247.67 853.00 246.00C855.95 244.33 861.50 242.00 863.20 241.20" fill="none" stroke="#7a7a7a" stroke-width="1.3" stroke-dasharray="2.0 1.9" stroke-linecap="butt"/>
<path d="M874.70 235.80L865.65 245.75L865.81 239.93L861.26 236.32Z" fill="#7f7f7f"/>
<path d="M771.10 580.12 L773.62 580.41 L776.14 581.02 L778.66 581.94 L781.18 583.15 L783.70 584.65 L786.22 586.43 L788.73 588.46 L791.25 590.75 L793.77 593.28 L796.29 596.03 L798.81 599.00 L801.33 602.18 L803.85 605.54 L806.37 609.09 L808.89 612.81 L811.41 616.68 L813.93 620.70 L816.45 624.86 L818.96 629.13 L821.48 633.52 L824.00 638.01 L826.52 642.58 L829.04 647.23 L831.56 651.95 L834.08 656.72 L836.60 661.52 L839.12 666.36 L841.64 671.22 L844.16 676.08 L846.68 680.94 L849.19 685.81 L851.71 690.66 L854.23 695.51 L856.75 700.36 L859.27 705.19 L861.79 710.01 L864.31 714.82 L866.83 719.62 L869.35 724.39 L871.87 729.15 L874.39 733.89 L876.91 738.60 L879.42 743.29 L881.94 747.95 L884.46 752.58 L886.98 757.19 L889.50 761.76 L892.02 766.29 L894.54 770.79 L897.06 775.25 L899.58 779.67 L902.10 784.05 L904.62 788.39 L907.14 792.68 L909.65 796.92 L912.17 801.11 L914.69 805.25 L917.21 809.34 L919.73 813.37 L922.25 817.34 L924.77 821.24 L927.29 825.09 L929.81 828.86 L932.33 832.57 L934.85 836.20 L937.37 839.75 L939.89 843.22 L942.40 846.61 L944.92 849.92 L947.44 853.13 L949.96 856.26 L952.48 859.29 L955.00 862.22 L957.52 865.06 L960.04 867.79 L962.56 870.41 L965.08 872.93 L967.60 875.33 L970.12 877.62 L972.63 879.79 L975.15 881.85 L977.67 883.78 L980.19 885.58 L982.71 887.25 L985.23 888.79 L987.75 890.20 L990.27 891.47 L992.79 892.59 L995.31 893.56 L997.83 894.38 L1000.35 895.05 L1002.86 895.55 L1005.38 895.88 L1007.90 896.03 L1010.42 896.01 L1012.94 895.81 L1015.46 895.42 L1017.98 894.83 L1020.50 894.05 L1023.02 893.07 L1025.54 891.90 L1028.06 890.54 L1030.58 889.00 L1033.09 887.29 L1035.61 885.41 L1038.13 883.38 L1040.65 881.20 L1043.17 878.87 L1045.69 876.40 L1048.21 873.81 L1050.73 871.09 L1053.25 868.25 L1055.77 865.31 L1058.29 862.27 L1060.81 859.13 L1063.33 855.90 L1065.84 852.60 L1068.36 849.22 L1070.88 845.77 L1073.40 842.27 L1075.92 838.71 L1078.44 835.11 L1080.96 831.47 L1083.48 827.79 L1086.00 824.09 L1088.52 820.36 L1091.04 816.60 L1093.56 812.81 L1096.07 808.98 L1098.59 805.13 L1101.11 801.25 L1103.63 797.34 L1106.15 793.39 L1108.67 789.42 L1111.19 785.42 L1113.71 781.39 L1116.23 777.32 L1118.75 773.23 L1121.27 769.10 L1123.79 764.95 L1126.30 760.77 L1128.82 756.55 L1131.34 752.30 L1133.86 748.03 L1136.38 743.72 L1138.90 739.38 L1141.42 735.01 L1143.94 730.62 L1146.46 726.19 L1148.98 721.73 L1151.50 717.23 L1154.02 712.71 L1156.53 708.16 L1159.05 703.59 L1161.57 699.01 L1164.09 694.42 L1166.61 689.82 L1169.13 685.24 L1171.65 680.67 L1174.17 676.12 L1176.69 671.60 L1179.21 667.11 L1181.73 662.67 L1184.25 658.28 L1186.76 653.94 L1189.28 649.67 L1191.80 645.47 L1194.32 641.34 L1196.84 637.30 L1199.36 633.36 L1201.88 629.51 L1204.40 625.77 L1206.92 622.14 L1209.44 618.63 L1211.96 615.25 L1214.48 612.01 L1217.00 608.91 L1219.51 605.95 L1222.03 603.15 L1224.55 600.52 L1227.07 598.05 L1229.59 595.75 L1232.11 593.63 L1234.63 591.68 L1237.15 589.90 L1239.67 588.30 L1242.19 586.88 L1244.71 585.63 L1247.23 584.56 L1249.74 583.68 L1252.26 582.97 L1254.78 582.45 L1257.30 582.11 L1259.82 581.95 L1262.34 581.98 L1264.86 582.20 L1267.38 582.60 L1269.90 583.20 L1272.42 583.98" fill="none" stroke="#e3871b" stroke-width="2.20" stroke-dasharray="7.6 2.6"/>
<path d="M771.10 905.22 L773.62 905.19 L776.14 905.15 L778.66 905.11 L781.18 905.06 L783.70 905.01 L786.22 904.94 L788.73 904.88 L791.25 904.80 L793.77 904.72 L796.29 904.64 L798.81 904.55 L801.33 904.45 L803.85 904.35 L806.37 904.24 L808.89 904.13 L811.41 904.02 L813.93 903.90 L816.45 903.77 L818.96 903.64 L821.48 903.51 L824.00 903.37 L826.52 903.23 L829.04 903.09 L831.56 902.94 L834.08 902.78 L836.60 902.63 L839.12 902.47 L841.64 902.31 L844.16 902.14 L846.68 901.97 L849.19 901.80 L851.71 901.62 L854.23 901.45 L856.75 901.27 L859.27 901.09 L861.79 900.90 L864.31 900.72 L866.83 900.53 L869.35 900.34 L871.87 900.15 L874.39 899.96 L876.91 899.76 L879.42 899.57 L881.94 899.37 L884.46 899.18 L886.98 898.98 L889.50 898.78 L892.02 898.58 L894.54 898.38 L897.06 898.18 L899.58 897.98 L902.10 897.78 L904.62 897.58 L907.14 897.38 L909.65 897.18 L912.17 896.98 L914.69 896.79 L917.21 896.59 L919.73 896.39 L922.25 896.20 L924.77 896.00 L927.29 895.81 L929.81 895.62 L932.33 895.43 L934.85 895.24 L937.37 895.06 L939.89 894.87 L942.40 894.69 L944.92 894.51 L947.44 894.33 L949.96 894.16 L952.48 893.98 L955.00 893.81 L957.52 893.65 L960.04 893.48 L962.56 893.32 L965.08 893.17 L967.60 893.01 L970.12 892.86 L972.63 892.71 L975.15 892.57 L977.67 892.43 L980.19 892.30 L982.71 892.17 L985.23 892.04 L987.75 891.92 L990.27 891.80 L992.79 891.69 L995.31 891.58 L997.83 891.48 L1000.35 891.38 L1002.86 891.29 L1005.38 891.20 L1007.90 891.12 L1010.42 891.05 L1012.94 890.98 L1015.46 890.91 L1017.98 890.86 L1020.50 890.80 L1023.02 890.76 L1025.54 890.72 L1028.06 890.69 L1030.58 890.66 L1033.09 890.65 L1035.61 890.63 L1038.13 890.63 L1040.65 890.63 L1043.17 890.64 L1045.69 890.66 L1048.21 890.68 L1050.73 890.71 L1053.25 890.74 L1055.77 890.78 L1058.29 890.83 L1060.81 890.88 L1063.33 890.94 L1065.84 891.01 L1068.36 891.08 L1070.88 891.15 L1073.40 891.23 L1075.92 891.32 L1078.44 891.41 L1080.96 891.50 L1083.48 891.61 L1086.00 891.71 L1088.52 891.82 L1091.04 891.94 L1093.56 892.05 L1096.07 892.18 L1098.59 892.31 L1101.11 892.44 L1103.63 892.57 L1106.15 892.71 L1108.67 892.85 L1111.19 893.00 L1113.71 893.15 L1116.23 893.30 L1118.75 893.46 L1121.27 893.62 L1123.79 893.78 L1126.30 893.95 L1128.82 894.12 L1131.34 894.29 L1133.86 894.46 L1136.38 894.64 L1138.90 894.81 L1141.42 894.99 L1143.94 895.18 L1146.46 895.36 L1148.98 895.55 L1151.50 895.73 L1154.02 895.92 L1156.53 896.11 L1159.05 896.31 L1161.57 896.50 L1164.09 896.69 L1166.61 896.89 L1169.13 897.09 L1171.65 897.28 L1174.17 897.48 L1176.69 897.68 L1179.21 897.88 L1181.73 898.08 L1184.25 898.28 L1186.76 898.48 L1189.28 898.68 L1191.80 898.88 L1194.32 899.07 L1196.84 899.27 L1199.36 899.47 L1201.88 899.67 L1204.40 899.87 L1206.92 900.06 L1209.44 900.26 L1211.96 900.45 L1214.48 900.64 L1217.00 900.83 L1219.51 901.02 L1222.03 901.21 L1224.55 901.40 L1227.07 901.58 L1229.59 901.77 L1232.11 901.95 L1234.63 902.13 L1237.15 902.30 L1239.67 902.48 L1242.19 902.65 L1244.71 902.82 L1247.23 902.98 L1249.74 903.15 L1252.26 903.31 L1254.78 903.47 L1257.30 903.62 L1259.82 903.77 L1262.34 903.92 L1264.86 904.06 L1267.38 904.20 L1269.90 904.34 L1272.42 904.47" fill="none" stroke="#4b979b" stroke-width="2.20" stroke-dasharray="7.6 2.6"/>
<path d="M771.20 567.47V593.67M767.70 567.47H774.70M767.70 593.67H774.70M795.07 592.10V615.50M791.57 592.10H798.57M791.57 615.50H798.57M818.93 635.45V654.85M815.43 635.45H822.43M815.43 654.85H822.43M842.80 688.30V701.90M839.30 688.30H846.30M839.30 701.90H846.30M866.67 737.52V747.92M863.17 737.52H870.17M863.17 747.92H870.17M1105.34 755.90V766.70M1101.84 755.90H1108.84M1101.84 766.70H1108.84M1129.21 715.31V728.31M1125.71 715.31H1132.71M1125.71 728.31H1132.71M1153.08 667.75V684.35M1149.58 667.75H1156.58M1149.58 684.35H1156.58M1176.95 622.91V640.91M1173.45 622.91H1180.45M1173.45 640.91H1180.45M1200.81 591.87V616.67M1197.31 591.87H1204.31M1197.31 616.67H1204.31M1224.68 580.95V607.15M1221.18 580.95H1228.18M1221.18 607.15H1228.18M1248.55 584.70V609.90M1245.05 584.70H1252.05M1245.05 609.90H1252.05M1272.42 603.71V629.91M1268.92 603.71H1275.92M1268.92 629.91H1275.92" stroke="#e3871b" stroke-width="1.60" fill="none"/>
<circle cx="771.20" cy="904.17" r="4.60" fill="#4b979b"/>
<circle cx="795.07" cy="904.40" r="4.60" fill="#4b979b"/>
<circle cx="818.93" cy="904.17" r="4.60" fill="#4b979b"/>
<circle cx="842.80" cy="903.47" r="4.60" fill="#4b979b"/>
<circle cx="866.67" cy="900.92" r="4.60" fill="#4b979b"/>
<circle cx="890.54" cy="899.06" r="4.60" fill="#4b979b"/>
<circle cx="914.40" cy="896.97" r="4.60" fill="#4b979b"/>
<circle cx="938.27" cy="895.11" r="4.60" fill="#4b979b"/>
<circle cx="962.14" cy="893.71" r="4.60" fill="#4b979b"/>
<circle cx="986.01" cy="891.39" r="4.60" fill="#4b979b"/>
<circle cx="1009.87" cy="890.00" r="4.60" fill="#4b979b"/>
<circle cx="1033.74" cy="890.00" r="4.60" fill="#4b979b"/>
<circle cx="1057.61" cy="890.00" r="4.60" fill="#4b979b"/>
<circle cx="1081.48" cy="890.69" r="4.60" fill="#4b979b"/>
<circle cx="1105.34" cy="892.55" r="4.60" fill="#4b979b"/>
<circle cx="1129.21" cy="895.11" r="4.60" fill="#4b979b"/>
<circle cx="1153.08" cy="896.50" r="4.60" fill="#4b979b"/>
<circle cx="1176.95" cy="898.59" r="4.60" fill="#4b979b"/>
<circle cx="1200.81" cy="899.99" r="4.60" fill="#4b979b"/>
<circle cx="1224.68" cy="901.84" r="4.60" fill="#4b979b"/>
<circle cx="1248.55" cy="903.24" r="4.60" fill="#4b979b"/>
<circle cx="1272.42" cy="903.24" r="4.60" fill="#4b979b"/>
<rect x="767.30" y="576.67" width="7.80" height="7.80" fill="#e3871b"/>
<rect x="791.17" y="599.90" width="7.80" height="7.80" fill="#e3871b"/>
<rect x="815.03" y="641.25" width="7.80" height="7.80" fill="#e3871b"/>
<rect x="838.90" y="691.20" width="7.80" height="7.80" fill="#e3871b"/>
<rect x="862.77" y="738.82" width="7.80" height="7.80" fill="#e3871b"/>
<rect x="886.64" y="793.87" width="7.80" height="7.80" fill="#e3871b"/>
<rect x="910.50" y="832.90" width="7.80" height="7.80" fill="#e3871b"/>
<rect x="934.37" y="859.85" width="7.80" height="7.80" fill="#e3871b"/>
<rect x="958.24" y="882.61" width="7.80" height="7.80" fill="#e3871b"/>
<rect x="982.11" y="893.07" width="7.80" height="7.80" fill="#e3871b"/>
<rect x="1005.97" y="887.49" width="7.80" height="7.80" fill="#e3871b"/>
<rect x="1029.84" y="866.70" width="7.80" height="7.80" fill="#e3871b"/>
<rect x="1053.71" y="834.76" width="7.80" height="7.80" fill="#e3871b"/>
<rect x="1077.58" y="791.55" width="7.80" height="7.80" fill="#e3871b"/>
<rect x="1101.44" y="757.40" width="7.80" height="7.80" fill="#e3871b"/>
<rect x="1125.31" y="717.91" width="7.80" height="7.80" fill="#e3871b"/>
<rect x="1149.18" y="672.15" width="7.80" height="7.80" fill="#e3871b"/>
<rect x="1173.05" y="628.01" width="7.80" height="7.80" fill="#e3871b"/>
<rect x="1196.91" y="600.37" width="7.80" height="7.80" fill="#e3871b"/>
<rect x="1220.78" y="590.15" width="7.80" height="7.80" fill="#e3871b"/>
<rect x="1244.65" y="593.40" width="7.80" height="7.80" fill="#e3871b"/>
<rect x="1268.52" y="612.91" width="7.80" height="7.80" fill="#e3871b"/>
<rect x="761.00" y="534.00" width="522.00" height="391.20" fill="none" stroke="#000" stroke-width="1.95"/>
<path d="M771.20 925.20V920.05M792.78 925.20V922.40M814.36 925.20V922.40M835.94 925.20V922.40M857.52 925.20V922.40M879.10 925.20V920.05M900.68 925.20V922.40M922.26 925.20V922.40M943.84 925.20V922.40M965.42 925.20V922.40M987.00 925.20V920.05M1008.58 925.20V922.40M1030.16 925.20V922.40M1051.74 925.20V922.40M1073.32 925.20V922.40M1094.90 925.20V920.05M1116.48 925.20V922.40M1138.06 925.20V922.40M1159.64 925.20V922.40M1181.22 925.20V922.40M1202.80 925.20V920.05M1224.38 925.20V922.40M1245.96 925.20V922.40M1267.54 925.20V922.40M761.00 906.00H766.15M761.00 882.75H763.90M761.00 859.49H763.90M761.00 836.24H763.90M761.00 812.99H763.90M761.00 789.74H766.15M761.00 766.48H763.90M761.00 743.23H763.90M761.00 719.98H763.90M761.00 696.72H763.90M761.00 673.47H766.15M761.00 650.22H763.90M761.00 626.96H763.90M761.00 603.71H763.90M761.00 580.46H763.90M761.00 557.20H766.15" stroke="#000" stroke-width="1.9" stroke-linecap="round" fill="none"/>
<text x="771.20" y="956.30" text-anchor="middle" class="tk">0.0</text>
<text x="879.10" y="956.30" text-anchor="middle" class="tk">0.5</text>
<text x="987.00" y="956.30" text-anchor="middle" class="tk">1.0</text>
<text x="1094.90" y="956.30" text-anchor="middle" class="tk">1.5</text>
<text x="1202.80" y="956.30" text-anchor="middle" class="tk">2.0</text>
<text x="749.70" y="914.20" text-anchor="end" class="tk">0.00</text>
<text x="749.70" y="797.94" text-anchor="end" class="tk">0.05</text>
<text x="749.70" y="681.67" text-anchor="end" class="tk">0.10</text>
<text x="749.70" y="565.40" text-anchor="end" class="tk">0.15</text>
<text x="1022.00" y="994.70" text-anchor="middle" class="tk">Interaction time (ms)</text>
<text transform="translate(675.50 729.60) rotate(-90)" text-anchor="middle" class="tk">Geometric quantum discord</text>
<text x="771.50" y="846.80" style="font-size:25.00px;fill:#808080" text-anchor="start">Correlation</text>
<text x="771.50" y="871.70" style="font-size:25.00px;fill:#808080" text-anchor="start">consumption</text>
<path d="M838.40 822.10C839.83 821.50 844.08 820.13 847.00 818.50C849.92 816.87 854.30 814.42 855.90 812.30C857.50 810.18 857.67 808.35 856.60 805.80C855.53 803.25 851.78 799.80 849.50 797.00C847.22 794.20 843.78 790.98 842.90 789.00C842.02 787.02 842.85 786.77 844.20 785.10C845.55 783.43 848.50 780.95 851.00 779.00C853.50 777.05 857.83 774.33 859.20 773.40" fill="none" stroke="#7a7a7a" stroke-width="1.3" stroke-dasharray="2.0 1.9" stroke-linecap="butt"/>
<path d="M868.90 765.60L862.47 777.41L861.25 771.72L855.97 769.29Z" fill="#7f7f7f"/>
<rect x="1456.65" y="371.50" width="21.30" height="1.10" fill="#e8e9e8"/>
<rect x="1456.65" y="371.50" width="21.30" height="1.17" fill="#f7e8e6"/>
<rect x="1483.31" y="372.60" width="21.30" height="0.80" fill="#e8e9e8"/>
<rect x="1483.31" y="373.83" width="21.30" height="1.17" fill="#f7e8e6"/>
<rect x="1509.97" y="372.60" width="21.30" height="0.80" fill="#e8e9e8"/>
<rect x="1509.97" y="373.83" width="21.30" height="1.17" fill="#f7e8e6"/>
<rect x="1536.63" y="371.50" width="21.30" height="1.10" fill="#e8e9e8"/>
<rect x="1536.63" y="370.92" width="21.30" height="1.17" fill="#f7e8e6"/>
<rect x="1563.29" y="364.91" width="21.30" height="7.69" fill="#e8e9e8"/>
<rect x="1563.29" y="363.92" width="21.30" height="2.33" fill="#f7e8e6"/>
<rect x="1589.95" y="354.02" width="21.30" height="18.58" fill="#e8e9e8"/>
<rect x="1589.95" y="354.02" width="21.30" height="3.50" fill="#f7e8e6"/>
<rect x="1616.61" y="340.61" width="21.30" height="31.99" fill="#e8e9e8"/>
<rect x="1616.61" y="340.90" width="21.30" height="6.12" fill="#f7e8e6"/>
<rect x="1643.27" y="326.92" width="21.30" height="45.68" fill="#e8e9e8"/>
<rect x="1643.27" y="329.89" width="21.30" height="7.23" fill="#f7e8e6"/>
<rect x="1669.93" y="308.56" width="21.30" height="64.04" fill="#e8e9e8"/>
<rect x="1669.93" y="312.93" width="21.30" height="12.53" fill="#f7e8e6"/>
<rect x="1696.59" y="292.88" width="21.30" height="79.72" fill="#e8e9e8"/>
<rect x="1696.59" y="300.92" width="21.30" height="17.54" fill="#f7e8e6"/>
<rect x="1723.25" y="271.90" width="21.30" height="100.70" fill="#e8e9e8"/>
<rect x="1723.25" y="283.91" width="21.30" height="26.98" fill="#f7e8e6"/>
<rect x="1749.91" y="253.89" width="21.30" height="118.71" fill="#e8e9e8"/>
<rect x="1749.91" y="271.90" width="21.30" height="38.00" fill="#f7e8e6"/>
<rect x="1776.57" y="236.00" width="21.30" height="136.60" fill="#e8e9e8"/>
<rect x="1776.57" y="261.58" width="21.30" height="48.72" fill="#f7e8e6"/>
<rect x="1803.23" y="219.10" width="21.30" height="153.50" fill="#e8e9e8"/>
<rect x="1803.23" y="252.61" width="21.30" height="61.19" fill="#f7e8e6"/>
<rect x="1829.89" y="200.74" width="21.30" height="171.86" fill="#e8e9e8"/>
<rect x="1829.89" y="244.62" width="21.30" height="77.92" fill="#f7e8e6"/>
<rect x="1856.55" y="186.75" width="21.30" height="185.85" fill="#e8e9e8"/>
<rect x="1856.55" y="239.20" width="21.30" height="92.08" fill="#f7e8e6"/>
<rect x="1883.21" y="170.43" width="21.30" height="202.17" fill="#e8e9e8"/>
<rect x="1883.21" y="232.21" width="21.30" height="106.65" fill="#f7e8e6"/>
<rect x="1909.87" y="154.12" width="21.30" height="218.48" fill="#e8e9e8"/>
<rect x="1909.87" y="223.18" width="21.30" height="125.01" fill="#f7e8e6"/>
<rect x="1936.53" y="144.79" width="21.30" height="227.81" fill="#e8e9e8"/>
<rect x="1936.53" y="219.68" width="21.30" height="137.83" fill="#f7e8e6"/>
<rect x="1963.19" y="130.22" width="21.30" height="242.38" fill="#e8e9e8"/>
<rect x="1963.19" y="214.32" width="21.30" height="151.06" fill="#f7e8e6"/>
<rect x="1989.85" y="125.56" width="21.30" height="247.04" fill="#e8e9e8"/>
<rect x="1989.85" y="213.56" width="21.30" height="155.61" fill="#f7e8e6"/>
<rect x="2016.51" y="115.07" width="21.30" height="257.53" fill="#e8e9e8"/>
<rect x="2016.51" y="203.07" width="21.30" height="165.52" fill="#f7e8e6"/>
<path d="M1467.30 371.17V374.17M1463.55 371.17H1471.05M1463.55 374.17H1471.05M1493.96 373.50V376.50M1490.21 373.50H1497.71M1490.21 376.50H1497.71M1520.62 373.50V376.50M1516.87 373.50H1524.37M1516.87 376.50H1524.37M1547.28 369.58V374.58M1543.53 369.58H1551.03M1543.53 374.58H1551.03M1573.94 362.25V370.25M1570.19 362.25H1577.69M1570.19 370.25H1577.69M1600.60 351.51V363.51M1596.85 351.51H1604.35M1596.85 363.51H1604.35M1627.26 339.02V355.02M1623.51 339.02H1631.01M1623.51 355.02H1631.01M1653.92 327.61V346.61M1650.17 327.61H1657.67M1650.17 346.61H1657.67M1680.58 314.06V336.86M1676.83 314.06H1684.33M1676.83 336.86H1684.33M1707.24 306.97V329.97M1703.49 306.97H1710.99M1703.49 329.97H1710.99M1733.90 298.29V323.49M1730.15 298.29H1737.65M1730.15 323.49H1737.65M1760.56 296.70V323.10M1756.81 296.70H1764.31M1756.81 323.10H1764.31M1787.22 296.71V323.91M1783.47 296.71H1790.97M1783.47 323.91H1790.97M1813.88 301.20V326.40M1810.13 301.20H1817.63M1810.13 326.40H1817.63M1840.54 309.94V335.14M1836.79 309.94H1844.29M1836.79 335.14H1844.29M1867.20 319.79V342.79M1863.45 319.79H1870.95M1863.45 342.79H1870.95M1893.86 328.46V349.26M1890.11 328.46H1897.61M1890.11 349.26H1897.61M1920.52 338.39V357.99M1916.77 338.39H1924.27M1916.77 357.99H1924.27M1947.18 349.21V365.81M1943.43 349.21H1950.93M1943.43 365.81H1950.93M1973.84 357.08V373.68M1970.09 357.08H1977.59M1970.09 373.68H1977.59M2000.50 360.87V377.47M1996.75 360.87H2004.25M1996.75 377.47H2004.25M2027.16 359.79V377.39M2023.41 359.79H2030.91M2023.41 377.39H2030.91" stroke="#4b979b" stroke-width="1.30" fill="none"/>
<path d="M1460.40 379.57H1474.20L1467.30 365.77Z" fill="#4b979b"/>
<path d="M1487.06 381.90H1500.86L1493.96 368.10Z" fill="#4b979b"/>
<path d="M1513.72 381.90H1527.52L1520.62 368.10Z" fill="#4b979b"/>
<path d="M1540.38 378.98H1554.18L1547.28 365.18Z" fill="#4b979b"/>
<path d="M1567.04 373.15H1580.84L1573.94 359.35Z" fill="#4b979b"/>
<path d="M1593.70 364.41H1607.50L1600.60 350.61Z" fill="#4b979b"/>
<path d="M1620.36 353.92H1634.16L1627.26 340.12Z" fill="#4b979b"/>
<path d="M1647.02 344.01H1660.82L1653.92 330.21Z" fill="#4b979b"/>
<path d="M1673.68 332.36H1687.48L1680.58 318.56Z" fill="#4b979b"/>
<path d="M1700.34 325.37H1714.14L1707.24 311.57Z" fill="#4b979b"/>
<path d="M1727.00 317.79H1740.80L1733.90 303.99Z" fill="#4b979b"/>
<path d="M1753.66 316.80H1767.46L1760.56 303.00Z" fill="#4b979b"/>
<path d="M1780.32 317.21H1794.12L1787.22 303.41Z" fill="#4b979b"/>
<path d="M1806.98 320.70H1820.78L1813.88 306.90Z" fill="#4b979b"/>
<path d="M1833.64 329.44H1847.44L1840.54 315.64Z" fill="#4b979b"/>
<path d="M1860.30 338.19H1874.10L1867.20 324.39Z" fill="#4b979b"/>
<path d="M1886.96 345.76H1900.76L1893.86 331.96Z" fill="#4b979b"/>
<path d="M1913.62 355.09H1927.42L1920.52 341.29Z" fill="#4b979b"/>
<path d="M1940.28 364.41H1954.08L1947.18 350.61Z" fill="#4b979b"/>
<path d="M1966.94 372.28H1980.74L1973.84 358.48Z" fill="#4b979b"/>
<path d="M1993.60 376.07H2007.40L2000.50 362.27Z" fill="#4b979b"/>
<path d="M2020.26 375.49H2034.06L2027.16 361.69Z" fill="#4b979b"/>
<path d="M1467.30 370.00V373.00M1463.55 370.00H1471.05M1463.55 373.00H1471.05M1493.96 372.33V375.33M1490.21 372.33H1497.71M1490.21 375.33H1497.71M1520.62 372.33V375.33M1516.87 372.33H1524.37M1516.87 375.33H1524.37M1547.28 368.42V373.42M1543.53 368.42H1551.03M1543.53 373.42H1551.03M1573.94 359.42V368.42M1570.19 359.42H1577.69M1570.19 368.42H1577.69M1600.60 347.52V360.52M1596.85 347.52H1604.35M1596.85 360.52H1604.35M1627.26 332.40V349.40M1623.51 332.40H1631.01M1623.51 349.40H1631.01M1653.92 319.89V339.89M1650.17 319.89H1657.67M1650.17 339.89H1657.67M1680.58 300.53V325.33M1676.83 300.53H1684.33M1676.83 325.33H1684.33M1707.24 287.32V314.52M1703.49 287.32H1710.99M1703.49 314.52H1710.99M1733.90 269.41V298.41M1730.15 269.41H1737.65M1730.15 298.41H1737.65M1760.56 256.40V287.40M1756.81 256.40H1764.31M1756.81 287.40H1764.31M1787.22 245.58V277.58M1783.47 245.58H1790.97M1783.47 277.58H1790.97M1813.88 236.91V268.31M1810.13 236.91H1817.63M1810.13 268.31H1817.63M1840.54 228.32V260.92M1836.79 228.32H1844.29M1836.79 260.92H1844.29M1867.20 223.50V254.90M1863.45 223.50H1870.95M1863.45 254.90H1870.95M1893.86 216.11V248.31M1890.11 216.11H1897.61M1890.11 248.31H1897.61M1920.52 206.88V239.48M1916.77 206.88H1924.27M1916.77 239.48H1924.27M1947.18 202.78V236.58M1943.43 202.78H1950.93M1943.43 236.58H1950.93M1973.84 196.32V232.32M1970.09 196.32H1977.59M1970.09 232.32H1977.59M2000.50 195.96V231.16M1996.75 195.96H2004.25M1996.75 231.16H2004.25M2027.16 185.17V220.97M2023.41 185.17H2030.91M2023.41 220.97H2030.91" stroke="#e3871b" stroke-width="1.30" fill="none"/>
<path d="M1458.80 371.50L1467.30 364.40L1475.80 371.50L1467.30 378.60Z" fill="#e3871b"/>
<path d="M1485.46 373.83L1493.96 366.73L1502.46 373.83L1493.96 380.93Z" fill="#e3871b"/>
<path d="M1512.12 373.83L1520.62 366.73L1529.12 373.83L1520.62 380.93Z" fill="#e3871b"/>
<path d="M1538.78 370.92L1547.28 363.82L1555.78 370.92L1547.28 378.02Z" fill="#e3871b"/>
<path d="M1565.44 363.92L1573.94 356.82L1582.44 363.92L1573.94 371.02Z" fill="#e3871b"/>
<path d="M1592.10 354.02L1600.60 346.92L1609.10 354.02L1600.60 361.12Z" fill="#e3871b"/>
<path d="M1618.76 340.90L1627.26 333.80L1635.76 340.90L1627.26 348.00Z" fill="#e3871b"/>
<path d="M1645.42 329.89L1653.92 322.79L1662.42 329.89L1653.92 336.99Z" fill="#e3871b"/>
<path d="M1672.08 312.93L1680.58 305.83L1689.08 312.93L1680.58 320.03Z" fill="#e3871b"/>
<path d="M1698.74 300.92L1707.24 293.82L1715.74 300.92L1707.24 308.02Z" fill="#e3871b"/>
<path d="M1725.40 283.91L1733.90 276.81L1742.40 283.91L1733.90 291.01Z" fill="#e3871b"/>
<path d="M1752.06 271.90L1760.56 264.80L1769.06 271.90L1760.56 279.00Z" fill="#e3871b"/>
<path d="M1778.72 261.58L1787.22 254.48L1795.72 261.58L1787.22 268.68Z" fill="#e3871b"/>
<path d="M1805.38 252.61L1813.88 245.51L1822.38 252.61L1813.88 259.71Z" fill="#e3871b"/>
<path d="M1832.04 244.62L1840.54 237.52L1849.04 244.62L1840.54 251.72Z" fill="#e3871b"/>
<path d="M1858.70 239.20L1867.20 232.10L1875.70 239.20L1867.20 246.30Z" fill="#e3871b"/>
<path d="M1885.36 232.21L1893.86 225.11L1902.36 232.21L1893.86 239.31Z" fill="#e3871b"/>
<path d="M1912.02 223.18L1920.52 216.08L1929.02 223.18L1920.52 230.28Z" fill="#e3871b"/>
<path d="M1938.68 219.68L1947.18 212.58L1955.68 219.68L1947.18 226.78Z" fill="#e3871b"/>
<path d="M1965.34 214.32L1973.84 207.22L1982.34 214.32L1973.84 221.42Z" fill="#e3871b"/>
<path d="M1992.00 213.56L2000.50 206.46L2009.00 213.56L2000.50 220.66Z" fill="#e3871b"/>
<path d="M2018.66 203.07L2027.16 195.97L2035.66 203.07L2027.16 210.17Z" fill="#e3871b"/>
<path d="M1467.30 370.00V373.00M1463.55 370.00H1471.05M1463.55 373.00H1471.05M1493.96 372.91V375.91M1490.21 372.91H1497.71M1490.21 375.91H1497.71M1520.62 372.91V375.91M1516.87 372.91H1524.37M1516.87 375.91H1524.37M1547.28 369.00V374.00M1543.53 369.00H1551.03M1543.53 374.00H1551.03M1573.94 359.91V369.91M1570.19 359.91H1577.69M1570.19 369.91H1577.69M1600.60 347.02V361.02M1596.85 347.02H1604.35M1596.85 361.02H1604.35M1627.26 331.41V349.81M1623.51 331.41H1631.01M1623.51 349.81H1631.01M1653.92 316.32V337.52M1650.17 316.32H1657.67M1650.17 337.52H1657.67M1680.58 295.56V321.56M1676.83 295.56H1684.33M1676.83 321.56H1684.33M1707.24 278.28V307.48M1703.49 278.28H1710.99M1703.49 307.48H1710.99M1733.90 256.50V287.30M1730.15 256.50H1737.65M1730.15 287.30H1737.65M1760.56 236.99V270.79M1756.81 236.99H1764.31M1756.81 270.79H1764.31M1787.22 219.00V253.00M1783.47 219.00H1790.97M1783.47 253.00H1790.97M1813.88 201.70V236.50M1810.13 201.70H1817.63M1810.13 236.50H1817.63M1840.54 183.04V218.44M1836.79 183.04H1844.29M1836.79 218.44H1844.29M1867.20 169.15V204.35M1863.45 169.15H1870.95M1863.45 204.35H1870.95M1893.86 152.03V188.83M1890.11 152.03H1897.61M1890.11 188.83H1897.61M1920.52 135.42V172.82M1916.77 135.42H1924.27M1916.77 172.82H1924.27M1947.18 125.59V163.99M1943.43 125.59H1950.93M1943.43 163.99H1950.93M1973.84 109.92V150.52M1970.09 109.92H1977.59M1970.09 150.52H1977.59M2000.50 104.96V146.16M1996.75 104.96H2004.25M1996.75 146.16H2004.25M2027.16 94.27V135.87M2023.41 94.27H2030.91M2023.41 135.87H2030.91" stroke="#9b5f9b" stroke-width="1.30" fill="none"/>
<path d="M1460.40 367.00H1474.20L1467.30 380.50Z" fill="#9b5f9b"/>
<path d="M1487.06 369.91H1500.86L1493.96 383.41Z" fill="#9b5f9b"/>
<path d="M1513.72 369.91H1527.52L1520.62 383.41Z" fill="#9b5f9b"/>
<path d="M1540.38 367.00H1554.18L1547.28 380.50Z" fill="#9b5f9b"/>
<path d="M1567.04 360.41H1580.84L1573.94 373.91Z" fill="#9b5f9b"/>
<path d="M1593.70 349.52H1607.50L1600.60 363.02Z" fill="#9b5f9b"/>
<path d="M1620.36 336.11H1634.16L1627.26 349.61Z" fill="#9b5f9b"/>
<path d="M1647.02 322.42H1660.82L1653.92 335.92Z" fill="#9b5f9b"/>
<path d="M1673.68 304.06H1687.48L1680.58 317.56Z" fill="#9b5f9b"/>
<path d="M1700.34 288.38H1714.14L1707.24 301.88Z" fill="#9b5f9b"/>
<path d="M1727.00 267.40H1740.80L1733.90 280.90Z" fill="#9b5f9b"/>
<path d="M1753.66 249.39H1767.46L1760.56 262.89Z" fill="#9b5f9b"/>
<path d="M1780.32 231.50H1794.12L1787.22 245.00Z" fill="#9b5f9b"/>
<path d="M1806.98 214.60H1820.78L1813.88 228.10Z" fill="#9b5f9b"/>
<path d="M1833.64 196.24H1847.44L1840.54 209.74Z" fill="#9b5f9b"/>
<path d="M1860.30 182.25H1874.10L1867.20 195.75Z" fill="#9b5f9b"/>
<path d="M1886.96 165.93H1900.76L1893.86 179.43Z" fill="#9b5f9b"/>
<path d="M1913.62 149.62H1927.42L1920.52 163.12Z" fill="#9b5f9b"/>
<path d="M1940.28 140.29H1954.08L1947.18 153.79Z" fill="#9b5f9b"/>
<path d="M1966.94 125.72H1980.74L1973.84 139.22Z" fill="#9b5f9b"/>
<path d="M1993.60 121.06H2007.40L2000.50 134.56Z" fill="#9b5f9b"/>
<path d="M2020.26 110.57H2034.06L2027.16 124.07Z" fill="#9b5f9b"/>
<rect x="1440.90" y="21.80" width="613.10" height="379.00" fill="none" stroke="#000" stroke-width="1.95"/>
<path d="M1467.30 400.80V395.65M1491.40 400.80V398.00M1515.51 400.80V398.00M1539.62 400.80V398.00M1563.72 400.80V398.00M1587.83 400.80V395.65M1611.93 400.80V398.00M1636.03 400.80V398.00M1660.14 400.80V398.00M1684.24 400.80V398.00M1708.35 400.80V395.65M1732.45 400.80V398.00M1756.56 400.80V398.00M1780.66 400.80V398.00M1804.77 400.80V398.00M1828.88 400.80V395.65M1852.98 400.80V398.00M1877.09 400.80V398.00M1901.19 400.80V398.00M1925.30 400.80V398.00M1949.40 400.80V395.65M1973.51 400.80V398.00M1997.61 400.80V398.00M2021.71 400.80V398.00M2045.82 400.80V398.00M1440.90 394.95H1443.80M1440.90 383.28H1443.80M1440.90 371.60H1446.05M1440.90 359.92H1443.80M1440.90 348.25H1443.80M1440.90 336.57H1443.80M1440.90 324.90H1443.80M1440.90 313.22H1446.05M1440.90 301.54H1443.80M1440.90 289.87H1443.80M1440.90 278.19H1443.80M1440.90 266.52H1443.80M1440.90 254.84H1446.05M1440.90 243.16H1443.80M1440.90 231.49H1443.80M1440.90 219.81H1443.80M1440.90 208.14H1443.80M1440.90 196.46H1446.05M1440.90 184.78H1443.80M1440.90 173.11H1443.80M1440.90 161.43H1443.80M1440.90 149.76H1443.80M1440.90 138.08H1446.05M1440.90 126.40H1443.80M1440.90 114.73H1443.80M1440.90 103.05H1443.80M1440.90 91.38H1443.80M1440.90 79.70H1446.05M1440.90 68.02H1443.80M1440.90 56.35H1443.80M1440.90 44.67H1443.80M1440.90 33.00H1443.80" stroke="#000" stroke-width="1.9" stroke-linecap="round" fill="none"/>
<text x="1467.30" y="431.90" text-anchor="middle" class="tk">0.0</text>
<text x="1587.83" y="431.90" text-anchor="middle" class="tk">0.5</text>
<text x="1708.35" y="431.90" text-anchor="middle" class="tk">1.0</text>
<text x="1828.88" y="431.90" text-anchor="middle" class="tk">1.5</text>
<text x="1949.40" y="431.90" text-anchor="middle" class="tk">2.0</text>
<text x="1428.60" y="379.80" text-anchor="end" class="tk">0.00</text>
<text x="1428.60" y="321.42" text-anchor="end" class="tk">0.01</text>
<text x="1428.60" y="263.04" text-anchor="end" class="tk">0.02</text>
<text x="1428.60" y="204.66" text-anchor="end" class="tk">0.03</text>
<text x="1428.60" y="146.28" text-anchor="end" class="tk">0.04</text>
<text x="1428.60" y="87.90" text-anchor="end" class="tk">0.05</text>
<text x="1747.45" y="470.30" text-anchor="middle" class="tk">Interaction time (ms)</text>
<text transform="translate(1356.00 211.30) rotate(-90)" text-anchor="middle" class="tk">Entropic quantities (bit)</text>
<text x="1796.5" y="67.2" style="font-size:29.3px">Uncorrelated</text>
<text y="64.30"><tspan x="1487.60" y="64.30" style="font-size:24.5px">&#916;I + S(&#961;</tspan><tspan x="1576.00" y="54.80" style="font-size:14.5px">&#964;</tspan><tspan x="1577.00" y="72.30" style="font-size:14.5px">A</tspan><tspan x="1587.40" y="64.30" style="font-size:24.5px">|</tspan><tspan x="1592.90" y="64.30" style="font-size:24.5px">|</tspan><tspan x="1598.60" y="64.30" style="font-size:24.5px">&#961;</tspan><tspan x="1614.80" y="54.80" style="font-size:14.5px">0</tspan><tspan x="1612.40" y="72.30" style="font-size:14.5px">A</tspan><tspan x="1624.20" y="64.30" style="font-size:24.5px">)</tspan><tspan x="1638.50" y="64.30" style="font-size:24.5px">+ S(&#961;</tspan><tspan x="1698.60" y="54.80" style="font-size:14.5px">&#964;</tspan><tspan x="1698.80" y="72.30" style="font-size:14.5px">B</tspan><tspan x="1709.40" y="64.30" style="font-size:24.5px">|</tspan><tspan x="1715.90" y="64.30" style="font-size:24.5px">|</tspan><tspan x="1720.80" y="64.30" style="font-size:24.5px">&#961;</tspan><tspan x="1736.80" y="54.80" style="font-size:14.5px">0</tspan><tspan x="1734.00" y="72.30" style="font-size:14.5px">B</tspan><tspan x="1745.50" y="64.30" style="font-size:24.5px">)</tspan></text>
<text y="107.40"><tspan x="1487.60" y="107.40" style="font-size:24.5px">&#916;I + S(&#961;</tspan><tspan x="1576.00" y="97.90" style="font-size:14.5px">&#964;</tspan><tspan x="1577.00" y="115.40" style="font-size:14.5px">A</tspan><tspan x="1587.40" y="107.40" style="font-size:24.5px">|</tspan><tspan x="1592.90" y="107.40" style="font-size:24.5px">|</tspan><tspan x="1598.60" y="107.40" style="font-size:24.5px">&#961;</tspan><tspan x="1614.80" y="97.90" style="font-size:14.5px">0</tspan><tspan x="1612.40" y="115.40" style="font-size:14.5px">A</tspan><tspan x="1624.20" y="107.40" style="font-size:24.5px">)</tspan></text>
<text y="152.10"><tspan x="1487.60" y="152.10" style="font-size:24.5px">&#916;I</tspan></text>
<path d="M1466.80 49.93H1481.60L1474.20 65.43Z" fill="#9b5f9b"/>
<path d="M1466.80 101.00L1475.00 93.00L1483.20 101.00L1475.00 109.00Z" fill="#e3871b"/>
<path d="M1466.80 152.50H1482.40L1474.60 136.90Z" fill="#4b979b"/>
<rect x="1484.02" y="581.20" width="21.80" height="21.83" fill="#e8e9e8"/>
<rect x="1484.02" y="594.39" width="21.80" height="3.89" fill="#f7e8e6"/>
<rect x="1511.24" y="581.20" width="21.80" height="54.53" fill="#e8e9e8"/>
<rect x="1511.24" y="608.21" width="21.80" height="14.03" fill="#f7e8e6"/>
<rect x="1538.47" y="581.20" width="21.80" height="90.91" fill="#e8e9e8"/>
<rect x="1538.47" y="612.96" width="21.80" height="31.09" fill="#f7e8e6"/>
<rect x="1565.69" y="581.20" width="21.80" height="134.62" fill="#e8e9e8"/>
<rect x="1565.69" y="620.84" width="21.80" height="51.27" fill="#f7e8e6"/>
<rect x="1592.91" y="581.20" width="21.80" height="170.68" fill="#e8e9e8"/>
<rect x="1592.91" y="618.03" width="21.80" height="72.32" fill="#f7e8e6"/>
<rect x="1620.13" y="581.20" width="21.80" height="210.72" fill="#e8e9e8"/>
<rect x="1620.13" y="623.64" width="21.80" height="89.59" fill="#f7e8e6"/>
<rect x="1647.35" y="581.20" width="21.80" height="263.61" fill="#e8e9e8"/>
<rect x="1647.35" y="649.33" width="21.80" height="103.62" fill="#f7e8e6"/>
<rect x="1674.58" y="581.20" width="21.80" height="284.01" fill="#e8e9e8"/>
<rect x="1674.58" y="638.76" width="21.80" height="124.56" fill="#f7e8e6"/>
<rect x="1701.80" y="581.20" width="21.80" height="298.26" fill="#e8e9e8"/>
<rect x="1701.80" y="643.29" width="21.80" height="130.18" fill="#f7e8e6"/>
<rect x="1729.02" y="581.20" width="21.80" height="288.12" fill="#e8e9e8"/>
<rect x="1729.02" y="625.26" width="21.80" height="138.70" fill="#f7e8e6"/>
<rect x="1756.24" y="581.20" width="21.80" height="268.25" fill="#e8e9e8"/>
<rect x="1756.24" y="624.62" width="21.80" height="125.64" fill="#f7e8e6"/>
<rect x="1783.46" y="581.20" width="21.80" height="235.33" fill="#e8e9e8"/>
<rect x="1783.46" y="617.06" width="21.80" height="109.56" fill="#f7e8e6"/>
<rect x="1810.69" y="581.20" width="21.80" height="191.19" fill="#e8e9e8"/>
<rect x="1810.69" y="608.32" width="21.80" height="87.65" fill="#f7e8e6"/>
<rect x="1837.91" y="581.20" width="21.80" height="147.15" fill="#e8e9e8"/>
<rect x="1837.91" y="605.19" width="21.80" height="63.58" fill="#f7e8e6"/>
<rect x="1865.13" y="581.20" width="21.80" height="106.02" fill="#e8e9e8"/>
<rect x="1865.13" y="601.19" width="21.80" height="43.07" fill="#f7e8e6"/>
<rect x="1892.35" y="581.20" width="21.80" height="65.22" fill="#e8e9e8"/>
<rect x="1892.35" y="594.61" width="21.80" height="25.15" fill="#f7e8e6"/>
<rect x="1919.57" y="581.20" width="21.80" height="40.07" fill="#e8e9e8"/>
<rect x="1919.57" y="596.44" width="21.80" height="11.33" fill="#f7e8e6"/>
<rect x="1946.80" y="581.20" width="21.80" height="25.17" fill="#e8e9e8"/>
<rect x="1946.80" y="597.09" width="21.80" height="4.86" fill="#f7e8e6"/>
<rect x="1974.02" y="581.20" width="21.80" height="24.53" fill="#e8e9e8"/>
<rect x="1974.02" y="600.98" width="21.80" height="3.67" fill="#f7e8e6"/>
<rect x="2001.24" y="581.20" width="21.80" height="33.16" fill="#e8e9e8"/>
<rect x="2001.24" y="603.57" width="21.80" height="8.31" fill="#f7e8e6"/>
<rect x="2028.46" y="581.20" width="21.80" height="52.27" fill="#e8e9e8"/>
<rect x="2028.46" y="605.51" width="21.80" height="16.19" fill="#f7e8e6"/>
<path d="M1467.70 575.06V591.06M1463.95 575.06H1471.45M1463.95 591.06H1471.45M1494.92 578.23V627.83M1491.17 578.23H1498.67M1491.17 627.83H1498.67M1522.14 614.73V656.73M1518.39 614.73H1525.89M1518.39 656.73H1525.89M1549.37 652.11V692.11M1545.62 652.11H1553.12M1545.62 692.11H1553.12M1576.59 695.53V736.12M1572.84 695.53H1580.34M1572.84 736.12H1580.34M1603.81 732.68V771.08M1600.06 732.68H1607.56M1600.06 771.08H1607.56M1631.03 774.42V809.42M1627.28 774.42H1634.78M1627.28 809.42H1634.78M1658.25 832.61V857.01M1654.50 832.61H1662.00M1654.50 857.01H1662.00M1685.48 852.11V878.31M1681.73 852.11H1689.23M1681.73 878.31H1689.23M1712.70 867.56V891.36M1708.95 867.56H1716.45M1708.95 891.36H1716.45M1739.92 855.72V882.92M1736.17 855.72H1743.67M1736.17 882.92H1743.67M1767.14 835.65V863.25M1763.39 835.65H1770.89M1763.39 863.25H1770.89M1794.36 800.03V833.03M1790.61 800.03H1798.11M1790.61 833.03H1798.11M1821.59 754.89V789.89M1817.84 754.89H1825.34M1817.84 789.89H1825.34M1848.81 708.85V747.85M1845.06 708.85H1852.56M1845.06 747.85H1852.56M1876.03 665.62V708.82M1872.28 665.62H1879.78M1872.28 708.82H1879.78M1903.25 625.22V667.62M1899.50 625.22H1907.00M1899.50 667.62H1907.00M1930.47 600.27V642.27M1926.72 600.27H1934.22M1926.72 642.27H1934.22M1957.70 582.87V629.87M1953.95 582.87H1961.45M1953.95 629.87H1961.45M1984.92 582.73V628.73M1981.17 582.73H1988.67M1981.17 628.73H1988.67M2012.14 592.56V636.16M2008.39 592.56H2015.89M2008.39 636.16H2015.89M2039.36 613.47V653.47M2035.61 613.47H2043.11M2035.61 653.47H2043.11" stroke="#4b979b" stroke-width="1.30" fill="none"/>
<path d="M1460.80 589.96H1474.60L1467.70 576.16Z" fill="#4b979b"/>
<path d="M1488.02 609.93H1501.82L1494.92 596.13Z" fill="#4b979b"/>
<path d="M1515.24 642.63H1529.04L1522.14 628.83Z" fill="#4b979b"/>
<path d="M1542.47 679.01H1556.27L1549.37 665.21Z" fill="#4b979b"/>
<path d="M1569.69 722.73H1583.49L1576.59 708.93Z" fill="#4b979b"/>
<path d="M1596.91 758.78H1610.71L1603.81 744.98Z" fill="#4b979b"/>
<path d="M1624.13 798.82H1637.93L1631.03 785.02Z" fill="#4b979b"/>
<path d="M1651.35 851.71H1665.15L1658.25 837.91Z" fill="#4b979b"/>
<path d="M1678.58 872.11H1692.38L1685.48 858.31Z" fill="#4b979b"/>
<path d="M1705.80 886.36H1719.60L1712.70 872.56Z" fill="#4b979b"/>
<path d="M1733.02 876.22H1746.82L1739.92 862.42Z" fill="#4b979b"/>
<path d="M1760.24 856.35H1774.04L1767.14 842.55Z" fill="#4b979b"/>
<path d="M1787.46 823.43H1801.26L1794.36 809.63Z" fill="#4b979b"/>
<path d="M1814.69 779.29H1828.49L1821.59 765.49Z" fill="#4b979b"/>
<path d="M1841.91 735.25H1855.71L1848.81 721.45Z" fill="#4b979b"/>
<path d="M1869.13 694.12H1882.93L1876.03 680.32Z" fill="#4b979b"/>
<path d="M1896.35 653.32H1910.15L1903.25 639.52Z" fill="#4b979b"/>
<path d="M1923.57 628.17H1937.37L1930.47 614.37Z" fill="#4b979b"/>
<path d="M1950.80 613.27H1964.60L1957.70 599.47Z" fill="#4b979b"/>
<path d="M1978.02 612.63H1991.82L1984.92 598.83Z" fill="#4b979b"/>
<path d="M2005.24 621.26H2019.04L2012.14 607.46Z" fill="#4b979b"/>
<path d="M2032.46 640.37H2046.26L2039.36 626.57Z" fill="#4b979b"/>
<path d="M1467.70 572.90V588.90M1463.95 572.90H1471.45M1463.95 588.90H1471.45M1494.92 573.28V623.28M1491.17 573.28H1498.67M1491.17 623.28H1498.67M1522.14 599.84V644.64M1518.39 599.84H1525.89M1518.39 644.64H1525.89M1549.37 622.54V665.54M1545.62 622.54H1553.12M1545.62 665.54H1553.12M1576.59 651.71V692.51M1572.84 651.71H1580.34M1572.84 692.51H1580.34M1603.81 671.15V709.55M1600.06 671.15H1607.56M1600.06 709.55H1607.56M1631.03 695.63V730.83M1627.28 695.63H1634.78M1627.28 730.83H1634.78M1658.25 740.26V765.66M1654.50 740.26H1662.00M1654.50 765.66H1662.00M1685.48 749.72V776.92M1681.73 749.72H1689.23M1681.73 776.92H1689.23M1712.70 760.76V786.16M1708.95 760.76H1716.45M1708.95 786.16H1716.45M1739.92 749.67V778.27M1736.17 749.67H1743.67M1736.17 778.27H1743.67M1767.14 735.96V764.56M1763.39 735.96H1770.89M1763.39 764.56H1770.89M1794.36 709.62V743.62M1790.61 709.62H1798.11M1790.61 743.62H1798.11M1821.59 677.76V714.16M1817.84 677.76H1825.34M1817.84 714.16H1825.34M1848.81 648.76V688.76M1845.06 648.76H1852.56M1845.06 688.76H1852.56M1876.03 622.86V665.66M1872.28 622.86H1879.78M1872.28 665.66H1879.78M1903.25 597.16V642.36M1899.50 597.16H1907.00M1899.50 642.36H1907.00M1930.47 584.38V631.18M1926.72 584.38H1934.22M1926.72 631.18H1934.22M1957.70 578.35V625.55M1953.95 578.35H1961.45M1953.95 625.55H1961.45M1984.92 581.65V627.65M1981.17 581.65H1988.67M1981.17 627.65H1988.67M2012.14 589.98V633.78M2008.39 589.98H2015.89M2008.39 633.78H2015.89M2039.36 601.70V641.70M2035.61 601.70H2043.11M2035.61 641.70H2043.11" stroke="#e3871b" stroke-width="1.30" fill="none"/>
<path d="M1459.20 580.90L1467.70 573.80L1476.20 580.90L1467.70 588.00Z" fill="#e3871b"/>
<path d="M1486.42 598.28L1494.92 591.18L1503.42 598.28L1494.92 605.38Z" fill="#e3871b"/>
<path d="M1513.64 622.24L1522.14 615.14L1530.64 622.24L1522.14 629.34Z" fill="#e3871b"/>
<path d="M1540.87 644.04L1549.37 636.94L1557.87 644.04L1549.37 651.14Z" fill="#e3871b"/>
<path d="M1568.09 672.11L1576.59 665.01L1585.09 672.11L1576.59 679.21Z" fill="#e3871b"/>
<path d="M1595.31 690.35L1603.81 683.25L1612.31 690.35L1603.81 697.45Z" fill="#e3871b"/>
<path d="M1622.53 713.23L1631.03 706.13L1639.53 713.23L1631.03 720.33Z" fill="#e3871b"/>
<path d="M1649.75 752.96L1658.25 745.86L1666.75 752.96L1658.25 760.06Z" fill="#e3871b"/>
<path d="M1676.98 763.32L1685.48 756.22L1693.98 763.32L1685.48 770.42Z" fill="#e3871b"/>
<path d="M1704.20 773.46L1712.70 766.36L1721.20 773.46L1712.70 780.56Z" fill="#e3871b"/>
<path d="M1731.42 763.97L1739.92 756.87L1748.42 763.97L1739.92 771.07Z" fill="#e3871b"/>
<path d="M1758.64 750.26L1767.14 743.16L1775.64 750.26L1767.14 757.36Z" fill="#e3871b"/>
<path d="M1785.86 726.62L1794.36 719.52L1802.86 726.62L1794.36 733.72Z" fill="#e3871b"/>
<path d="M1813.09 695.96L1821.59 688.86L1830.09 695.96L1821.59 703.06Z" fill="#e3871b"/>
<path d="M1840.31 668.76L1848.81 661.66L1857.31 668.76L1848.81 675.86Z" fill="#e3871b"/>
<path d="M1867.53 644.26L1876.03 637.16L1884.53 644.26L1876.03 651.36Z" fill="#e3871b"/>
<path d="M1894.75 619.76L1903.25 612.66L1911.75 619.76L1903.25 626.86Z" fill="#e3871b"/>
<path d="M1921.97 607.78L1930.47 600.68L1938.97 607.78L1930.47 614.88Z" fill="#e3871b"/>
<path d="M1949.20 601.95L1957.70 594.85L1966.20 601.95L1957.70 609.05Z" fill="#e3871b"/>
<path d="M1976.42 604.65L1984.92 597.55L1993.42 604.65L1984.92 611.75Z" fill="#e3871b"/>
<path d="M2003.64 611.88L2012.14 604.78L2020.64 611.88L2012.14 618.98Z" fill="#e3871b"/>
<path d="M2030.86 621.70L2039.36 614.60L2047.86 621.70L2039.36 628.80Z" fill="#e3871b"/>
<path d="M1467.70 554.80V607.00M1463.95 554.80H1471.45M1463.95 607.00H1471.45M1494.92 569.89V618.89M1491.17 569.89H1498.67M1491.17 618.89H1498.67M1522.14 586.21V630.21M1518.39 586.21H1525.89M1518.39 630.21H1525.89M1549.37 590.96V634.96M1545.62 590.96H1553.12M1545.62 634.96H1553.12M1576.59 599.54V642.14M1572.84 599.54H1580.34M1572.84 642.14H1580.34M1603.81 597.73V638.33M1600.06 597.73H1607.56M1600.06 638.33H1607.56M1631.03 604.44V642.84M1627.28 604.44H1634.78M1627.28 642.84H1634.78M1658.25 634.13V664.53M1654.50 634.13H1662.00M1654.50 664.53H1662.00M1685.48 622.66V654.86M1681.73 622.66H1689.23M1681.73 654.86H1689.23M1712.70 627.19V659.39M1708.95 627.19H1716.45M1708.95 659.39H1716.45M1739.92 608.56V641.96M1736.17 608.56H1743.67M1736.17 641.96H1743.67M1767.14 607.62V641.62M1763.39 607.62H1770.89M1763.39 641.62H1770.89M1794.36 598.66V635.46M1790.61 598.66H1798.11M1790.61 635.46H1798.11M1821.59 588.92V627.72M1817.84 588.92H1825.34M1817.84 627.72H1825.34M1848.81 584.29V626.09M1845.06 584.29H1852.56M1845.06 626.09H1852.56M1876.03 579.19V623.19M1872.28 579.19H1879.78M1872.28 623.19H1879.78M1903.25 571.71V617.51M1899.50 571.71H1907.00M1899.50 617.51H1907.00M1930.47 572.64V620.24M1926.72 572.64H1934.22M1926.72 620.24H1934.22M1957.70 573.29V620.89M1953.95 573.29H1961.45M1953.95 620.89H1961.45M1984.92 578.48V623.48M1981.17 578.48H1988.67M1981.17 623.48H1988.67M2012.14 581.57V625.57M2008.39 581.57H2015.89M2008.39 625.57H2015.89M2039.36 585.11V625.91M2035.61 585.11H2043.11M2035.61 625.91H2043.11" stroke="#9b5f9b" stroke-width="1.30" fill="none"/>
<path d="M1460.80 576.40H1474.60L1467.70 589.90Z" fill="#9b5f9b"/>
<path d="M1488.02 589.89H1501.82L1494.92 603.39Z" fill="#9b5f9b"/>
<path d="M1515.24 603.71H1529.04L1522.14 617.21Z" fill="#9b5f9b"/>
<path d="M1542.47 608.46H1556.27L1549.37 621.96Z" fill="#9b5f9b"/>
<path d="M1569.69 616.34H1583.49L1576.59 629.84Z" fill="#9b5f9b"/>
<path d="M1596.91 613.53H1610.71L1603.81 627.03Z" fill="#9b5f9b"/>
<path d="M1624.13 619.14H1637.93L1631.03 632.64Z" fill="#9b5f9b"/>
<path d="M1651.35 644.83H1665.15L1658.25 658.33Z" fill="#9b5f9b"/>
<path d="M1678.58 634.26H1692.38L1685.48 647.76Z" fill="#9b5f9b"/>
<path d="M1705.80 638.79H1719.60L1712.70 652.29Z" fill="#9b5f9b"/>
<path d="M1733.02 620.76H1746.82L1739.92 634.26Z" fill="#9b5f9b"/>
<path d="M1760.24 620.12H1774.04L1767.14 633.62Z" fill="#9b5f9b"/>
<path d="M1787.46 612.56H1801.26L1794.36 626.06Z" fill="#9b5f9b"/>
<path d="M1814.69 603.82H1828.49L1821.59 617.32Z" fill="#9b5f9b"/>
<path d="M1841.91 600.69H1855.71L1848.81 614.19Z" fill="#9b5f9b"/>
<path d="M1869.13 596.69H1882.93L1876.03 610.19Z" fill="#9b5f9b"/>
<path d="M1896.35 590.11H1910.15L1903.25 603.61Z" fill="#9b5f9b"/>
<path d="M1923.57 591.94H1937.37L1930.47 605.44Z" fill="#9b5f9b"/>
<path d="M1950.80 592.59H1964.60L1957.70 606.09Z" fill="#9b5f9b"/>
<path d="M1978.02 596.48H1991.82L1984.92 609.98Z" fill="#9b5f9b"/>
<path d="M2005.24 599.07H2019.04L2012.14 612.57Z" fill="#9b5f9b"/>
<path d="M2032.46 601.01H2046.26L2039.36 614.51Z" fill="#9b5f9b"/>
<rect x="1440.70" y="538.50" width="626.30" height="386.70" fill="none" stroke="#000" stroke-width="1.95"/>
<path d="M1467.70 925.20V920.05M1492.31 925.20V922.40M1516.93 925.20V922.40M1541.54 925.20V922.40M1566.15 925.20V922.40M1590.77 925.20V920.05M1615.38 925.20V922.40M1639.99 925.20V922.40M1664.60 925.20V922.40M1689.22 925.20V922.40M1713.83 925.20V920.05M1738.44 925.20V922.40M1763.06 925.20V922.40M1787.67 925.20V922.40M1812.28 925.20V922.40M1836.89 925.20V920.05M1861.51 925.20V922.40M1886.12 925.20V922.40M1910.73 925.20V922.40M1935.35 925.20V922.40M1959.96 925.20V920.05M1984.57 925.20V922.40M2009.19 925.20V922.40M2033.80 925.20V922.40M2058.41 925.20V922.40M1440.70 914.77H1443.60M1440.70 904.00H1445.85M1440.70 893.23H1443.60M1440.70 882.46H1443.60M1440.70 871.69H1443.60M1440.70 860.92H1443.60M1440.70 850.15H1445.85M1440.70 839.38H1443.60M1440.70 828.61H1443.60M1440.70 817.84H1443.60M1440.70 807.07H1443.60M1440.70 796.30H1445.85M1440.70 785.53H1443.60M1440.70 774.76H1443.60M1440.70 763.99H1443.60M1440.70 753.22H1443.60M1440.70 742.45H1445.85M1440.70 731.68H1443.60M1440.70 720.91H1443.60M1440.70 710.14H1443.60M1440.70 699.37H1443.60M1440.70 688.60H1445.85M1440.70 677.83H1443.60M1440.70 667.06H1443.60M1440.70 656.29H1443.60M1440.70 645.52H1443.60M1440.70 634.75H1445.85M1440.70 623.98H1443.60M1440.70 613.21H1443.60M1440.70 602.44H1443.60M1440.70 591.67H1443.60M1440.70 580.90H1445.85M1440.70 570.13H1443.60M1440.70 559.36H1443.60M1440.70 548.59H1443.60" stroke="#000" stroke-width="1.9" stroke-linecap="round" fill="none"/>
<text x="1467.70" y="956.30" text-anchor="middle" class="tk">0.0</text>
<text x="1590.77" y="956.30" text-anchor="middle" class="tk">0.5</text>
<text x="1713.83" y="956.30" text-anchor="middle" class="tk">1.0</text>
<text x="1836.89" y="956.30" text-anchor="middle" class="tk">1.5</text>
<text x="1959.96" y="956.30" text-anchor="middle" class="tk">2.0</text>
<text x="1429.40" y="589.10" text-anchor="end" class="tk">0.00</text>
<text x="1429.40" y="642.95" text-anchor="end" class="tk">&#8722;0.05</text>
<text x="1429.40" y="696.80" text-anchor="end" class="tk">&#8722;0.10</text>
<text x="1429.40" y="750.65" text-anchor="end" class="tk">&#8722;0.15</text>
<text x="1429.40" y="804.50" text-anchor="end" class="tk">&#8722;0.20</text>
<text x="1429.40" y="858.35" text-anchor="end" class="tk">&#8722;0.25</text>
<text x="1429.40" y="912.20" text-anchor="end" class="tk">&#8722;0.30</text>
<text x="1753.85" y="994.70" text-anchor="middle" class="tk">Interaction time (ms)</text>
<text transform="translate(1343.00 731.85) rotate(-90)" text-anchor="middle" class="tk">Entropic quantities (bit)</text>
<text x="1890.5" y="884.8" style="font-size:29.4px">Correlated</text>
</svg>
</body></html>
